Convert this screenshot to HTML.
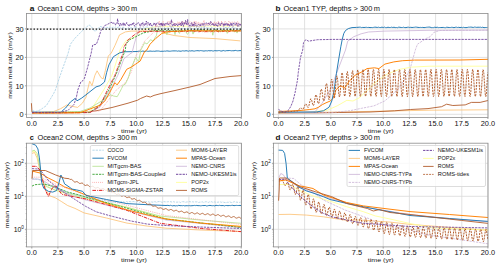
<!DOCTYPE html><html><head><meta charset="utf-8"><style>html,body{margin:0;padding:0;background:#fff;width:500px;height:269px;overflow:hidden}svg{display:block}text{font-family:"Liberation Sans", sans-serif;fill:#111111;stroke:none}</style></head><body>
<svg width="500" height="269" viewBox="0 0 500 269">
<defs>
<clipPath id="clipa"><rect x="26.5" y="13.5" width="214.9" height="103.9"/></clipPath>
<clipPath id="clipb"><rect x="273.5" y="13.5" width="214.5" height="103.9"/></clipPath>
<clipPath id="clipc"><rect x="26.5" y="143.2" width="214.9" height="103.7"/></clipPath>
<clipPath id="clipd"><rect x="273.5" y="143.2" width="214.5" height="103.7"/></clipPath>
</defs>
<line x1="31.8" y1="13.5" x2="31.8" y2="117.4" stroke="#d9d9d9" stroke-width="0.8"/>
<line x1="57.9" y1="13.5" x2="57.9" y2="117.4" stroke="#d9d9d9" stroke-width="0.8"/>
<line x1="84.1" y1="13.5" x2="84.1" y2="117.4" stroke="#d9d9d9" stroke-width="0.8"/>
<line x1="110.3" y1="13.5" x2="110.3" y2="117.4" stroke="#d9d9d9" stroke-width="0.8"/>
<line x1="136.5" y1="13.5" x2="136.5" y2="117.4" stroke="#d9d9d9" stroke-width="0.8"/>
<line x1="162.7" y1="13.5" x2="162.7" y2="117.4" stroke="#d9d9d9" stroke-width="0.8"/>
<line x1="188.9" y1="13.5" x2="188.9" y2="117.4" stroke="#d9d9d9" stroke-width="0.8"/>
<line x1="215.1" y1="13.5" x2="215.1" y2="117.4" stroke="#d9d9d9" stroke-width="0.8"/>
<line x1="241.2" y1="13.5" x2="241.2" y2="117.4" stroke="#d9d9d9" stroke-width="0.8"/>
<line x1="26.5" y1="114.3" x2="241.4" y2="114.3" stroke="#d9d9d9" stroke-width="0.8"/>
<line x1="26.5" y1="85.8" x2="241.4" y2="85.8" stroke="#d9d9d9" stroke-width="0.8"/>
<line x1="26.5" y1="57.4" x2="241.4" y2="57.4" stroke="#d9d9d9" stroke-width="0.8"/>
<line x1="26.5" y1="28.9" x2="241.4" y2="28.9" stroke="#d9d9d9" stroke-width="0.8"/>
<path d="M31.4,103.2 L32.0,112.2 L40.0,112.8 L60.0,112.8 L80.0,112.5 L96.0,110.8 L112.0,107.5 L128.0,103.2 L137.6,100.2 L140.5,98.5 L146.6,96.0 L150.3,97.0 L154.0,95.4 L160.0,93.8 L175.0,90.5 L190.0,87.0 L200.0,84.5 L215.0,78.5 L230.0,76.5 L241.3,75.6" fill="none" stroke="#b15928" stroke-width="0.88" clip-path="url(#clipa)" stroke-linejoin="round"/>
<path d="M32.0,112.6 L60.0,112.5 L90.0,111.5 L103.7,90.0 L111.9,75.3 L116.3,61.9 L120.0,50.0 L126.0,40.5 L132.7,38.3 L138.6,33.0 L144.6,29.3 L153.5,27.1 L155.0,26.7 L156.2,26.8 L157.4,26.8 L158.6,26.9 L159.8,26.7 L161.0,26.9 L162.2,26.2 L163.4,26.5 L164.6,26.8 L165.8,26.6 L167.0,26.8 L168.2,26.2 L169.4,26.5 L170.6,26.3 L171.8,26.5 L173.0,26.5 L174.2,26.1 L175.4,26.3 L176.6,26.3 L177.8,26.7 L179.0,26.6 L180.2,26.2 L181.4,26.6 L182.6,26.2 L183.8,26.5 L185.0,26.1 L186.2,26.0 L187.4,26.6 L188.6,26.2 L189.8,26.2 L191.0,26.7 L192.2,26.6 L193.4,26.2 L194.6,26.6 L195.8,26.3 L197.0,26.4 L198.2,26.1 L199.4,26.6 L200.6,26.4 L201.8,26.6 L203.0,26.5 L204.2,26.1 L205.4,26.2 L206.6,26.0 L207.8,26.0 L209.0,25.9 L210.2,26.1 L211.4,26.3 L212.6,25.9 L213.8,26.3 L215.0,26.1 L216.2,26.0 L217.4,26.4 L218.6,26.1 L219.8,26.0 L221.0,26.1 L222.2,26.3 L223.4,25.8 L224.6,26.4 L225.8,25.8 L227.0,26.3 L228.2,26.3 L229.4,25.7 L230.6,26.3 L231.8,26.0 L233.0,26.1 L234.2,25.7 L235.4,25.7 L236.6,25.8 L237.8,26.3 L239.0,25.8 L240.2,26.2" fill="none" stroke="#ffff99" stroke-width="0.88" clip-path="url(#clipa)" stroke-linejoin="round"/>
<path d="M32.0,112.6 L53.6,111.6 L60.8,108.6 L66.8,105.0 L71.6,106.2 L77.6,107.4 L82.4,103.2 L86.0,97.2 L87.5,90.0 L89.7,81.2 L92.0,85.7 L94.9,75.3 L97.1,70.8 L100.9,77.5 L103.1,79.0 L105.3,70.8 L108.3,56.0 L111.3,53.0 L114.9,45.7 L119.5,34.9 L125.4,31.9 L131.3,31.1 L144.7,31.1 L159.6,30.8 L163.5,33.1 L174.2,35.5 L190.0,37.5 L215.0,38.6 L240.3,40.9" fill="none" stroke="#fdbf6f" stroke-width="0.80" clip-path="url(#clipa)" stroke-linejoin="round"/>
<path d="M32.2,110.6 L35.6,111.6 L40.4,109.8 L46.4,105.6 L53.6,93.6 L55.4,90.0 L60.0,76.0 L68.2,53.0 L70.4,44.2 L74.9,38.3 L82.3,30.8 L89.0,24.9 L91.2,26.4 L95.0,31.6 L100.1,26.4 L104.6,27.9 L106.0,27.6 L107.2,27.2 L108.4,28.3 L109.6,27.1 L110.8,28.1 L112.0,27.7 L113.2,27.0 L114.4,28.0 L115.6,27.0 L116.8,27.9 L118.0,27.1 L119.2,27.1 L120.4,27.9 L121.6,28.8 L122.8,27.2 L124.0,27.4 L125.2,28.3 L126.4,29.0 L127.6,28.2 L128.8,27.8 L130.0,29.1 L131.2,27.1 L132.4,28.8 L133.6,27.6 L134.8,27.3 L136.0,27.2 L137.2,27.6 L138.4,28.8 L139.6,27.4 L140.8,28.3 L142.0,28.4 L143.2,27.8 L144.4,28.2 L145.6,27.1 L146.8,27.1 L148.0,27.4 L149.2,28.5 L150.4,27.9 L151.6,27.7 L152.8,28.3 L154.0,28.0 L155.2,27.7 L156.4,28.8 L157.6,28.6 L158.8,27.6 L160.0,28.3 L161.2,28.2 L162.4,29.0 L163.6,28.6 L164.8,27.7 L166.0,29.2 L167.2,27.3 L168.4,28.0 L169.6,28.7 L170.8,27.4 L172.0,28.1 L173.2,27.1 L174.4,28.5 L175.6,28.7 L176.8,28.3 L178.0,29.0 L179.2,27.8 L180.4,28.6 L181.6,28.4 L182.8,28.3 L184.0,28.1 L185.2,28.9 L186.4,29.2 L187.6,28.1 L188.8,28.5 L190.0,27.2 L191.2,28.6 L192.4,28.5 L193.6,29.3 L194.8,28.9 L196.0,27.7 L197.2,28.0 L198.4,28.6 L199.6,27.2 L200.8,28.1 L202.0,27.5 L203.2,27.4 L204.4,27.2 L205.6,28.8 L206.8,27.4 L208.0,27.7 L209.2,28.0 L210.4,29.0 L211.6,27.3 L212.8,28.1 L214.0,28.3 L215.2,29.1 L216.4,28.9 L217.6,29.0 L218.8,27.8 L220.0,28.1 L221.2,27.9 L222.4,29.1 L223.6,29.3 L224.8,27.5 L226.0,27.6 L227.2,27.7 L228.4,27.7 L229.6,28.2 L230.8,28.5 L232.0,27.8 L233.2,27.2 L234.4,28.1 L235.6,28.0 L236.8,28.4 L238.0,29.3 L239.2,28.7 L240.4,28.3" fill="none" stroke="#a6cee3" stroke-width="0.80" stroke-dasharray="2.3,1.0" clip-path="url(#clipa)" stroke-linejoin="round"/>
<path d="M32.2,112.2 L60.8,112.2 L65.6,108.0 L70.4,102.0 L75.2,98.4 L77.0,100.8 L81.2,98.4 L86.0,94.8 L96.0,86.9 L100.0,85.7 L104.5,82.0 L106.7,72.3 L108.9,64.9 L113.4,56.7 L119.3,53.0 L123.8,51.8 L137.1,51.5 L138.0,51.3 L139.2,51.2 L140.4,51.1 L141.6,51.5 L142.8,51.0 L144.0,51.3 L145.2,51.5 L146.4,51.0 L147.6,51.3 L148.8,51.3 L150.0,51.0 L151.2,51.2 L152.4,51.3 L153.6,51.2 L154.8,51.3 L156.0,51.0 L157.2,51.0 L158.4,51.0 L159.6,51.2 L160.8,51.4 L162.0,51.2 L163.2,51.3 L164.4,51.1 L165.6,51.2 L166.8,50.9 L168.0,51.0 L169.2,51.2 L170.4,51.2 L171.6,51.0 L172.8,50.9 L174.0,50.9 L175.2,50.9 L176.4,50.9 L177.6,51.2 L178.8,50.9 L180.0,51.2 L181.2,51.2 L182.4,50.8 L183.6,50.9 L184.8,51.0 L186.0,50.7 L187.2,50.9 L188.4,51.2 L189.6,50.8 L190.8,51.0 L192.0,50.7 L193.2,51.0 L194.4,51.1 L195.6,50.8 L196.8,50.7 L198.0,50.7 L199.2,50.9 L200.4,50.6 L201.6,50.7 L202.8,50.9 L204.0,51.1 L205.2,50.8 L206.4,50.8 L207.6,50.9 L208.8,50.6 L210.0,50.9 L211.2,50.6 L212.4,50.9 L213.6,51.0 L214.8,50.6 L216.0,50.8 L217.2,50.8 L218.4,50.6 L219.6,50.6 L220.8,51.0 L222.0,51.0 L223.2,50.5 L224.4,50.8 L225.6,50.9 L226.8,50.6 L228.0,50.7 L229.2,50.5 L230.4,50.6 L231.6,50.8 L232.8,50.7 L234.0,50.8 L235.2,50.4 L236.4,50.6 L237.6,50.8 L238.8,50.7 L240.0,50.6 L241.2,50.6" fill="none" stroke="#1f78b4" stroke-width="0.96" clip-path="url(#clipa)" stroke-linejoin="round"/>
<path d="M32.0,112.8 L90.0,112.4 L100.0,107.0 L110.4,90.0 L117.8,75.3 L123.8,58.9 L131.2,53.0 L132.0,53.0 L134.2,44.2 L136.4,36.8 L140.0,28.0 L141.0,23.9 L141.8,25.9 L142.6,25.8 L143.4,26.6 L144.2,23.6 L145.0,23.8 L145.8,23.4 L146.6,23.7 L147.4,26.1 L148.2,23.3 L149.0,25.1 L149.8,23.7 L150.6,24.1 L151.4,24.7 L152.2,26.6 L153.0,25.5 L153.8,22.8 L154.6,24.0 L155.4,23.4 L156.2,26.7 L157.0,26.4 L157.8,26.4 L158.6,26.5 L159.4,26.1 L160.2,27.1 L161.0,26.4 L161.8,23.9 L162.6,26.6 L163.4,24.9 L164.2,26.2 L165.0,25.3 L165.8,24.7 L166.6,24.4 L167.4,24.7 L168.2,24.1 L169.0,23.2 L169.8,26.5 L170.6,26.4 L171.4,27.2 L172.2,25.9 L173.0,25.2 L173.8,26.1 L174.6,23.3 L175.4,25.8 L176.2,24.7 L177.0,23.5 L177.8,23.6 L178.6,25.1 L179.4,23.9 L180.2,24.8 L181.0,25.5 L181.8,24.5 L182.6,23.3 L183.4,25.0 L184.2,23.8 L185.0,23.8 L185.8,23.6 L186.6,24.4 L187.4,23.0 L188.2,25.7 L189.0,27.1 L189.8,24.5 L190.6,26.0 L191.4,27.0 L192.2,22.9 L193.0,23.4 L193.8,26.4 L194.6,26.6 L195.4,25.6 L196.2,23.4 L197.0,24.6 L197.8,26.7 L198.6,26.8 L199.4,26.4 L200.2,23.6 L201.0,26.6 L201.8,24.4 L202.6,26.0 L203.4,23.3 L204.2,27.2 L205.0,25.5 L205.8,26.0 L206.6,23.7 L207.4,25.5 L208.2,25.4 L209.0,25.4 L209.8,24.4 L210.6,26.0 L211.4,24.3 L212.2,24.1 L213.0,23.5 L213.8,25.8 L214.6,23.2 L215.4,23.7 L216.2,23.0 L217.0,25.7 L217.8,25.3 L218.6,25.2 L219.4,22.9 L220.2,24.7 L221.0,24.3 L221.8,23.1 L222.6,22.7 L223.4,27.3 L224.2,23.3 L225.0,24.1 L225.8,23.9 L226.6,25.4 L227.4,23.1 L228.2,24.9 L229.0,24.4 L229.8,26.5 L230.6,22.7 L231.4,24.2 L232.2,25.0 L233.0,27.2 L233.8,25.1 L234.6,24.9 L235.4,25.8 L236.2,24.1 L237.0,22.8 L237.8,25.0 L238.6,26.9 L239.4,26.1 L240.2,23.9 L241.0,25.8" fill="none" stroke="#cab2d6" stroke-width="0.80" clip-path="url(#clipa)" stroke-linejoin="round"/>
<path d="M32.0,112.8 L100.0,111.0 L116.3,90.0 L125.3,82.7 L131.2,72.3 L135.7,56.0 L140.1,50.0 L144.6,41.2 L150.5,35.3 L155.0,31.0 L156.0,23.7 L156.8,26.0 L157.6,25.0 L158.4,24.4 L159.2,21.1 L160.0,24.9 L160.8,23.6 L161.6,25.4 L162.4,23.1 L163.2,21.3 L164.0,25.5 L164.8,24.6 L165.6,25.9 L166.4,23.8 L167.2,24.3 L168.0,21.4 L168.8,23.4 L169.6,21.7 L170.4,25.2 L171.2,21.1 L172.0,21.2 L172.8,22.8 L173.6,22.9 L174.4,25.5 L175.2,23.9 L176.0,23.7 L176.8,22.3 L177.6,22.0 L178.4,23.8 L179.2,21.6 L180.0,25.7 L180.8,22.7 L181.6,23.9 L182.4,21.0 L183.2,22.7 L184.0,22.4 L184.8,24.7 L185.6,21.3 L186.4,23.3 L187.2,24.5 L188.0,24.7 L188.8,24.0 L189.6,21.9 L190.4,21.7 L191.2,22.0 L192.0,23.7 L192.8,25.7 L193.6,21.2 L194.4,21.4 L195.2,25.3 L196.0,21.4 L196.8,24.2 L197.6,23.7 L198.4,21.8 L199.2,24.7 L200.0,22.9 L200.8,23.8 L201.6,23.2 L202.4,24.8 L203.2,22.5 L204.0,20.2 L204.8,23.8 L205.6,25.5 L206.4,23.9 L207.2,23.8 L208.0,22.8 L208.8,24.8 L209.6,22.7 L210.4,23.6 L211.2,21.9 L212.0,24.5 L212.8,23.2 L213.6,23.5 L214.4,21.4 L215.2,26.0 L216.0,23.3 L216.8,22.0 L217.6,23.5 L218.4,21.0 L219.2,25.6 L220.0,26.0 L220.8,25.6 L221.6,21.0 L222.4,24.8 L223.2,24.2 L224.0,25.0 L224.8,21.1 L225.6,21.8 L226.4,22.2 L227.2,23.7 L228.0,25.9 L228.8,20.9 L229.6,22.6 L230.4,22.5 L231.2,22.3 L232.0,22.6 L232.8,22.1 L233.6,22.3 L234.4,22.1 L235.2,22.4 L236.0,22.7 L236.8,25.9 L237.6,21.6 L238.4,23.1 L239.2,22.8 L240.0,24.8 L240.8,23.7" fill="none" stroke="#fb9a99" stroke-width="0.88" stroke-dasharray="0.8,1.1" clip-path="url(#clipa)" stroke-linejoin="round"/>
<path d="M32.0,112.6 L80.0,111.5 L90.0,108.0 L100.0,102.0 L110.4,94.8 L113.5,96.0 L117.2,96.7 L119.6,92.4 L121.5,88.7 L123.3,85.0 L125.3,84.2 L128.2,78.2 L131.2,67.8 L135.7,57.4 L138.6,61.9 L140.9,50.0 L144.6,42.7 L147.0,44.0 L150.5,39.7 L153.0,41.0 L156.5,35.3 L157.0,31.9 L157.9,31.5 L158.8,31.2 L159.7,31.0 L160.6,30.9 L161.5,31.1 L162.4,30.6 L163.3,31.0 L164.2,33.2 L165.1,31.5 L166.0,31.9 L166.9,34.7 L167.8,31.9 L168.7,31.7 L169.6,32.3 L170.5,32.0 L171.4,30.7 L172.3,31.8 L173.2,31.1 L174.1,31.6 L175.0,34.6 L175.9,31.2 L176.8,31.2 L177.7,31.0 L178.6,32.0 L179.5,33.4 L180.4,30.4 L181.3,30.7 L182.2,30.7 L183.1,31.7 L184.0,30.7 L184.9,30.2 L185.8,31.6 L186.7,33.3 L187.6,34.4 L188.5,33.0 L189.4,30.6 L190.3,30.3 L191.2,31.9 L192.1,30.1 L193.0,34.1 L193.9,31.4 L194.8,32.0 L195.7,31.2 L196.6,30.4 L197.5,30.1 L198.4,31.3 L199.3,30.3 L200.2,31.5 L201.1,30.6 L202.0,30.4 L202.9,31.5 L203.8,31.3 L204.7,30.5 L205.6,30.8 L206.5,30.0 L207.4,30.1 L208.3,31.8 L209.2,31.7 L210.1,30.8 L211.0,30.5 L211.9,30.7 L212.8,35.2 L213.7,30.9 L214.6,29.8 L215.5,30.4 L216.4,31.0 L217.3,30.3 L218.2,31.8 L219.1,31.8 L220.0,31.1 L220.9,31.2 L221.8,31.6 L222.7,29.7 L223.6,31.0 L224.5,31.2 L225.4,30.2 L226.3,30.2 L227.2,33.4 L228.1,30.8 L229.0,30.3 L229.9,31.0 L230.8,30.3 L231.7,30.0 L232.6,30.2 L233.5,31.2 L234.4,32.2 L235.3,30.6 L236.2,31.5 L237.1,33.1 L238.0,30.1 L238.9,31.2 L239.8,29.7 L240.7,29.8" fill="none" stroke="#b2df8a" stroke-width="0.80" clip-path="url(#clipa)" stroke-linejoin="round"/>
<path d="M32.0,112.8 L90.0,112.3 L100.0,105.0 L108.9,90.0 L116.3,73.8 L120.8,61.9 L125.3,50.0 L126.0,44.2 L129.7,39.7 L135.7,36.8 L143.1,33.0 L149.0,31.6 L150.0,31.2 L151.2,31.2 L152.4,31.1 L153.6,30.0 L154.8,30.7 L156.0,30.5 L157.2,30.6 L158.4,30.0 L159.6,30.1 L160.8,30.5 L162.0,30.2 L163.2,30.5 L164.4,29.9 L165.6,30.0 L166.8,30.8 L168.0,30.4 L169.2,30.5 L170.4,30.8 L171.6,30.3 L172.8,29.9 L174.0,30.9 L175.2,30.6 L176.4,30.7 L177.6,30.6 L178.8,31.1 L180.0,30.3 L181.2,30.8 L182.4,30.3 L183.6,30.6 L184.8,30.7 L186.0,30.2 L187.2,29.9 L188.4,30.4 L189.6,30.7 L190.8,30.5 L192.0,30.3 L193.2,30.6 L194.4,30.0 L195.6,30.0 L196.8,30.1 L198.0,30.8 L199.2,30.0 L200.4,29.8 L201.6,29.8 L202.8,29.7 L204.0,30.0 L205.2,30.5 L206.4,30.8 L207.6,30.1 L208.8,30.2 L210.0,30.0 L211.2,30.1 L212.4,30.7 L213.6,30.4 L214.8,30.0 L216.0,29.8 L217.2,30.7 L218.4,30.6 L219.6,30.8 L220.8,29.9 L222.0,30.3 L223.2,30.9 L224.4,30.4 L225.6,30.9 L226.8,29.8 L228.0,30.9 L229.2,29.6 L230.4,30.1 L231.6,29.6 L232.8,30.7 L234.0,30.5 L235.2,30.9 L236.4,30.6 L237.6,30.8 L238.8,30.3 L240.0,30.9 L241.2,30.5" fill="none" stroke="#33a02c" stroke-width="0.88" stroke-dasharray="2.3,1.0" clip-path="url(#clipa)" stroke-linejoin="round"/>
<path d="M32.0,112.9 L90.0,112.6 L100.0,106.0 L107.4,90.0 L114.9,75.3 L119.3,63.4 L123.0,53.0 L123.8,47.2 L128.2,39.7 L135.7,33.8 L138.6,32.3 L140.0,31.5 L141.2,31.3 L142.4,31.8 L143.6,31.3 L144.8,31.5 L146.0,31.3 L147.2,31.4 L148.4,31.9 L149.6,31.1 L150.8,31.4 L152.0,31.2 L153.2,31.3 L154.4,32.0 L155.6,31.3 L156.8,31.6 L158.0,31.4 L159.2,31.7 L160.4,31.4 L161.6,31.1 L162.8,31.4 L164.0,31.3 L165.2,31.7 L166.4,31.5 L167.6,31.1 L168.8,31.6 L170.0,31.2 L171.2,31.4 L172.4,31.1 L173.6,31.3 L174.8,31.7 L176.0,31.4 L177.2,31.6 L178.4,31.6 L179.6,31.5 L180.8,31.5 L182.0,31.3 L183.2,31.5 L184.4,31.6 L185.6,31.0 L186.8,31.8 L188.0,31.2 L189.2,31.0 L190.4,31.0 L191.6,31.2 L192.8,30.9 L194.0,31.2 L195.2,31.3 L196.4,31.5 L197.6,31.3 L198.8,31.8 L200.0,31.5 L201.2,31.1 L202.4,31.7 L203.6,31.5 L204.8,31.8 L206.0,31.5 L207.2,31.8 L208.4,31.0 L209.6,31.1 L210.8,31.8 L212.0,30.8 L213.2,31.7 L214.4,31.7 L215.6,30.9 L216.8,30.9 L218.0,31.7 L219.2,31.7 L220.4,31.6 L221.6,31.5 L222.8,31.5 L224.0,31.1 L225.2,30.8 L226.4,31.4 L227.6,31.6 L228.8,31.7 L230.0,31.2 L231.2,30.7 L232.4,30.9 L233.6,31.2 L234.8,30.9 L236.0,30.7 L237.2,30.9 L238.4,31.2 L239.6,30.8 L240.8,30.8" fill="none" stroke="#e31a1c" stroke-width="0.88" stroke-dasharray="3.6,1,0.8,1" clip-path="url(#clipa)" stroke-linejoin="round"/>
<path d="M32.0,113.0 L80.0,112.8 L100.0,105.2 L104.9,101.0 L109.8,92.4 L111.7,88.7 L114.9,82.7 L117.1,84.9 L120.8,79.7 L126.7,69.3 L131.2,67.1 L135.7,64.1 L140.1,61.1 L144.6,51.5 L146.8,50.0 L150.0,44.2 L155.8,38.4 L161.6,33.6 L165.5,32.1 L175.1,31.2 L190.0,30.7 L215.0,30.9 L241.3,30.9" fill="none" stroke="#ff7f00" stroke-width="0.96" clip-path="url(#clipa)" stroke-linejoin="round"/>
<path d="M32.0,112.5 L60.0,112.4 L68.0,110.4 L74.0,104.4 L76.4,97.2 L77.8,90.0 L80.8,82.0 L83.0,80.5 L84.5,78.2 L87.5,67.8 L89.7,58.9 L91.2,53.0 L92.7,45.0 L96.4,44.2 L98.6,38.3 L100.9,30.8 L104.6,25.6 L107.0,24.6 L110.5,22.7 L112.0,22.3 L112.7,23.9 L113.4,22.9 L114.1,23.2 L114.8,22.9 L115.5,25.0 L116.2,24.5 L116.9,24.0 L117.6,18.8 L118.3,23.9 L119.0,23.6 L119.7,26.1 L120.4,23.2 L121.1,24.5 L121.8,25.7 L122.5,23.1 L123.2,22.8 L123.9,25.8 L124.6,23.2 L125.3,25.3 L126.0,24.9 L126.7,22.5 L127.4,23.7 L128.1,24.9 L128.8,26.2 L129.5,26.3 L130.2,23.6 L130.9,24.8 L131.6,25.0 L132.3,23.1 L133.0,24.8 L133.7,22.7 L134.4,26.0 L135.1,26.3 L135.8,24.2 L136.5,24.1 L137.2,24.6 L137.9,22.8 L138.6,22.8 L139.3,23.7 L140.0,25.8 L140.7,24.4 L141.4,23.5 L142.1,24.8 L142.8,22.5 L143.5,22.9 L144.2,25.1 L144.9,25.4 L145.6,25.4 L146.3,21.0 L147.0,23.5 L147.7,22.6 L148.4,22.6 L149.1,23.2 L149.8,25.7 L150.5,23.1 L151.2,25.2 L151.9,25.8 L152.6,24.5 L153.3,24.2 L154.0,24.3 L154.7,22.9 L155.4,25.4 L156.1,25.2 L156.8,23.1 L157.5,22.9 L158.2,23.0 L158.9,23.6 L159.6,25.3 L160.3,23.4 L161.0,25.4 L161.7,22.5 L162.4,26.0 L163.1,23.2 L163.8,23.9 L164.5,25.7 L165.2,23.2 L165.9,23.8 L166.6,23.9 L167.3,22.7 L168.0,24.9 L168.7,24.4 L169.4,23.5 L170.1,22.6 L170.8,23.6 L171.5,19.7 L172.2,25.5 L172.9,26.1 L173.6,24.1 L174.3,23.4 L175.0,25.8 L175.7,23.7 L176.4,24.7 L177.1,23.9 L177.8,26.2 L178.5,24.5 L179.2,23.7 L179.9,25.2 L180.6,23.3 L181.3,25.8 L182.0,21.4 L182.7,25.2 L183.4,26.4 L184.1,22.7 L184.8,24.4 L185.5,20.4 L186.2,22.7 L186.9,24.6 L187.6,19.4 L188.3,24.2 L189.0,24.4 L189.7,26.1 L190.4,25.4 L191.1,23.2 L191.8,22.8 L192.5,26.1 L193.2,24.0 L193.9,26.3 L194.6,22.4 L195.3,24.3 L196.0,25.8 L196.7,26.1 L197.4,26.1 L198.1,24.7 L198.8,24.3 L199.5,24.8 L200.2,26.0 L200.9,24.0 L201.6,23.9 L202.3,24.2 L203.0,23.6 L203.7,25.2 L204.4,23.3 L205.1,23.6 L205.8,23.2 L206.5,23.0 L207.2,23.6 L207.9,24.3 L208.6,22.9 L209.3,24.7 L210.0,23.9 L210.7,21.3 L211.4,23.8 L212.1,24.7 L212.8,23.0 L213.5,25.0 L214.2,26.1 L214.9,24.9 L215.6,23.6 L216.3,25.7 L217.0,24.7 L217.7,26.4 L218.4,22.8 L219.1,23.1 L219.8,24.4 L220.5,25.8 L221.2,23.1 L221.9,23.3 L222.6,23.1 L223.3,24.0 L224.0,26.1 L224.7,23.9 L225.4,25.2 L226.1,23.1 L226.8,23.2 L227.5,25.5 L228.2,24.0 L228.9,25.7 L229.6,26.2 L230.3,23.7 L231.0,23.0 L231.7,26.0 L232.4,23.3 L233.1,24.2 L233.8,22.8 L234.5,23.1 L235.2,24.6 L235.9,22.7 L236.6,23.2 L237.3,26.0 L238.0,26.2 L238.7,23.6 L239.4,25.0 L240.1,24.0 L240.8,25.5" fill="none" stroke="#6a3d9a" stroke-width="0.84" stroke-dasharray="2.3,1.0" clip-path="url(#clipa)" stroke-linejoin="round"/>
<line x1="27.0" y1="29.1" x2="241.4" y2="29.1" stroke="#111" stroke-width="1.45" stroke-dasharray="1.4,1.87"/>
<rect x="26.5" y="13.5" width="214.9" height="103.9" fill="none" stroke="#8c8c8c" stroke-width="0.8"/>
<line x1="31.8" y1="117.4" x2="31.8" y2="119.0" stroke="#8c8c8c" stroke-width="0.8"/>
<text x="31.75" y="125.70" font-size="6.84" text-anchor="middle" textLength="10.26" lengthAdjust="spacingAndGlyphs">0.0</text>
<line x1="57.9" y1="117.4" x2="57.9" y2="119.0" stroke="#8c8c8c" stroke-width="0.8"/>
<text x="57.94" y="125.70" font-size="6.84" text-anchor="middle" textLength="10.26" lengthAdjust="spacingAndGlyphs">2.5</text>
<line x1="84.1" y1="117.4" x2="84.1" y2="119.0" stroke="#8c8c8c" stroke-width="0.8"/>
<text x="84.12" y="125.70" font-size="6.84" text-anchor="middle" textLength="10.26" lengthAdjust="spacingAndGlyphs">5.0</text>
<line x1="110.3" y1="117.4" x2="110.3" y2="119.0" stroke="#8c8c8c" stroke-width="0.8"/>
<text x="110.31" y="125.70" font-size="6.84" text-anchor="middle" textLength="10.26" lengthAdjust="spacingAndGlyphs">7.5</text>
<line x1="136.5" y1="117.4" x2="136.5" y2="119.0" stroke="#8c8c8c" stroke-width="0.8"/>
<text x="136.50" y="125.70" font-size="6.84" text-anchor="middle" textLength="14.36" lengthAdjust="spacingAndGlyphs">10.0</text>
<line x1="162.7" y1="117.4" x2="162.7" y2="119.0" stroke="#8c8c8c" stroke-width="0.8"/>
<text x="162.69" y="125.70" font-size="6.84" text-anchor="middle" textLength="14.36" lengthAdjust="spacingAndGlyphs">12.5</text>
<line x1="188.9" y1="117.4" x2="188.9" y2="119.0" stroke="#8c8c8c" stroke-width="0.8"/>
<text x="188.88" y="125.70" font-size="6.84" text-anchor="middle" textLength="14.36" lengthAdjust="spacingAndGlyphs">15.0</text>
<line x1="215.1" y1="117.4" x2="215.1" y2="119.0" stroke="#8c8c8c" stroke-width="0.8"/>
<text x="215.06" y="125.70" font-size="6.84" text-anchor="middle" textLength="14.36" lengthAdjust="spacingAndGlyphs">17.5</text>
<line x1="241.2" y1="117.4" x2="241.2" y2="119.0" stroke="#8c8c8c" stroke-width="0.8"/>
<text x="241.25" y="125.70" font-size="6.84" text-anchor="middle" textLength="14.36" lengthAdjust="spacingAndGlyphs">20.0</text>
<text x="133.95" y="132.90" font-size="6.13" text-anchor="middle" textLength="25.94" lengthAdjust="spacingAndGlyphs">time (yr)</text>
<line x1="24.9" y1="114.3" x2="26.5" y2="114.3" stroke="#8c8c8c" stroke-width="0.8"/>
<text x="23.70" y="117.15" font-size="6.84" text-anchor="end" textLength="4.10" lengthAdjust="spacingAndGlyphs">0</text>
<line x1="24.9" y1="85.8" x2="26.5" y2="85.8" stroke="#8c8c8c" stroke-width="0.8"/>
<text x="23.70" y="88.70" font-size="6.84" text-anchor="end" textLength="8.21" lengthAdjust="spacingAndGlyphs">10</text>
<line x1="24.9" y1="57.4" x2="26.5" y2="57.4" stroke="#8c8c8c" stroke-width="0.8"/>
<text x="23.70" y="60.25" font-size="6.84" text-anchor="end" textLength="8.21" lengthAdjust="spacingAndGlyphs">20</text>
<line x1="24.9" y1="28.9" x2="26.5" y2="28.9" stroke="#8c8c8c" stroke-width="0.8"/>
<text x="23.70" y="31.80" font-size="6.84" text-anchor="end" textLength="8.21" lengthAdjust="spacingAndGlyphs">30</text>
<text x="0.00" y="0.00" font-size="5.95" text-anchor="middle" textLength="66.49" lengthAdjust="spacingAndGlyphs" transform="translate(12.2,65.5) rotate(-90)">mean melt rate (m/yr)</text>
<text x="29.70" y="10.65" font-size="7.35" font-weight="bold" textLength="4.68" lengthAdjust="spacingAndGlyphs">a</text>
<text x="37.40" y="10.65" font-size="7.39" textLength="99.82" lengthAdjust="spacingAndGlyphs">Ocean1 COM, depths &gt; 300 m</text>
<line x1="278.4" y1="13.5" x2="278.4" y2="117.4" stroke="#d9d9d9" stroke-width="0.8"/>
<line x1="304.6" y1="13.5" x2="304.6" y2="117.4" stroke="#d9d9d9" stroke-width="0.8"/>
<line x1="330.8" y1="13.5" x2="330.8" y2="117.4" stroke="#d9d9d9" stroke-width="0.8"/>
<line x1="357.0" y1="13.5" x2="357.0" y2="117.4" stroke="#d9d9d9" stroke-width="0.8"/>
<line x1="383.2" y1="13.5" x2="383.2" y2="117.4" stroke="#d9d9d9" stroke-width="0.8"/>
<line x1="409.4" y1="13.5" x2="409.4" y2="117.4" stroke="#d9d9d9" stroke-width="0.8"/>
<line x1="435.6" y1="13.5" x2="435.6" y2="117.4" stroke="#d9d9d9" stroke-width="0.8"/>
<line x1="461.8" y1="13.5" x2="461.8" y2="117.4" stroke="#d9d9d9" stroke-width="0.8"/>
<line x1="487.9" y1="13.5" x2="487.9" y2="117.4" stroke="#d9d9d9" stroke-width="0.8"/>
<line x1="273.5" y1="114.3" x2="488.0" y2="114.3" stroke="#d9d9d9" stroke-width="0.8"/>
<line x1="273.5" y1="85.8" x2="488.0" y2="85.8" stroke="#d9d9d9" stroke-width="0.8"/>
<line x1="273.5" y1="57.4" x2="488.0" y2="57.4" stroke="#d9d9d9" stroke-width="0.8"/>
<line x1="273.5" y1="28.9" x2="488.0" y2="28.9" stroke="#d9d9d9" stroke-width="0.8"/>
<path d="M278.5,112.6 L330.0,112.2 L380.0,111.2 L430.0,110.2 L488.0,109.8" fill="none" stroke="#fdbf6f" stroke-width="0.80" clip-path="url(#clipb)" stroke-linejoin="round"/>
<path d="M278.5,113.0 L320.0,112.8 L370.0,112.0 L394.5,110.8 L410.5,109.5 L428.0,108.6 L441.6,106.7 L446.6,104.2 L452.8,105.5 L465.2,104.9 L471.4,102.4 L480.1,102.4 L488.0,100.5" fill="none" stroke="#b15928" stroke-width="0.88" clip-path="url(#clipb)" stroke-linejoin="round"/>
<path d="M278.5,112.8 L310.0,112.0 L327.3,110.2 L337.1,105.9 L346.9,100.3 L353.0,101.0 L359.2,97.9 L366.5,91.1 L372.7,85.0 L378.9,79.7 L387.8,73.8 L399.7,69.3 L411.6,67.1 L430.0,66.2 L488.0,66.2" fill="none" stroke="#ffff99" stroke-width="0.88" clip-path="url(#clipb)" stroke-linejoin="round"/>
<path d="M278.5,112.8 L331.0,112.6 L349.4,110.8 L361.6,108.3 L373.9,105.9 L384.7,101.0 L392.0,94.8 L399.4,87.5 L404.2,80.0 L410.0,69.3 L415.3,50.0 L417.5,44.2 L422.0,41.2 L426.5,38.3 L430.0,36.8 L434.0,32.3 L440.0,30.5 L488.0,30.1" fill="none" stroke="#cab2d6" stroke-width="0.80" stroke-dasharray="2.3,1.0" clip-path="url(#clipb)" stroke-linejoin="round"/>
<path d="M278.5,112.5 L315.0,111.8 L322.0,103.4 L329.4,91.0 L331.3,88.0 L335.8,75.3 L345.5,50.0 L347.7,41.2 L353.6,36.8 L361.1,33.8 L368.5,32.0 L375.9,31.6 L384.9,31.1 L430.0,30.3 L488.0,30.1" fill="none" stroke="#cab2d6" stroke-width="0.80" clip-path="url(#clipb)" stroke-linejoin="round"/>
<path d="M278.5,111.5 L300.0,110.5 L309.8,109.5 L315.0,108.8 L318.7,107.1 L322.4,104.6 L326.0,102.8 L330.3,101.0 L334.0,97.3 L335.2,92.4 L335.8,90.0 L340.3,85.7 L344.7,87.9 L349.2,81.2 L355.1,75.3 L361.1,72.3 L367.0,68.6 L374.5,67.8 L378.9,68.6 L384.9,64.1 L393.8,61.9 L402.7,60.7 L414.6,60.1 L460.0,60.0 L488.0,59.3" fill="none" stroke="#ff7f00" stroke-width="0.96" clip-path="url(#clipb)" stroke-linejoin="round"/>
<path d="M278.5,112.2 L316.0,112.0 L323.4,110.8 L329.0,107.3 L331.8,101.0 L334.0,91.0 L336.4,73.6 L338.6,60.0 L340.8,46.8 L342.3,39.0 L343.8,33.4 L345.5,30.5 L348.3,28.6 L352.0,27.6 L356.6,27.4 L358.0,27.3 L359.2,27.2 L360.4,27.2 L361.6,27.6 L362.8,27.4 L364.0,27.5 L365.2,27.4 L366.4,27.3 L367.6,27.5 L368.8,27.4 L370.0,27.6 L371.2,27.5 L372.4,27.6 L373.6,27.4 L374.8,27.2 L376.0,27.2 L377.2,27.5 L378.4,27.2 L379.6,27.5 L380.8,27.5 L382.0,27.1 L383.2,27.6 L384.4,27.1 L385.6,27.6 L386.8,27.6 L388.0,27.2 L389.2,27.5 L390.4,27.5 L391.6,27.2 L392.8,27.5 L394.0,27.2 L395.2,27.6 L396.4,27.5 L397.6,27.7 L398.8,27.1 L400.0,27.3 L401.2,27.5 L402.4,27.5 L403.6,27.2 L404.8,27.6 L406.0,27.6 L407.2,27.3 L408.4,27.2 L409.6,27.5 L410.8,27.3 L412.0,27.5 L413.2,27.4 L414.4,27.3 L415.6,27.1 L416.8,27.2 L418.0,27.4 L419.2,27.5 L420.4,27.4 L421.6,27.5 L422.8,27.4 L424.0,27.6 L425.2,27.5 L426.4,27.3 L427.6,27.2 L428.8,27.1 L430.0,27.1 L431.2,27.6 L432.4,27.6 L433.6,27.6 L434.8,27.2 L436.0,27.5 L437.2,27.2 L438.4,27.6 L439.6,27.5 L440.8,27.5 L442.0,27.5 L443.2,27.4 L444.4,27.6 L445.6,27.7 L446.8,27.2 L448.0,27.4 L449.2,27.5 L450.4,27.5 L451.6,27.3 L452.8,27.4 L454.0,27.7 L455.2,27.3 L456.4,27.2 L457.6,27.5 L458.8,27.3 L460.0,27.6 L461.2,27.3 L462.4,27.7 L463.6,27.3 L464.8,27.6 L466.0,27.6 L467.2,27.5 L468.4,27.2 L469.6,27.2 L470.8,27.1 L472.0,27.2 L473.2,27.5 L474.4,27.1 L475.6,27.2 L476.8,27.4 L478.0,27.2 L479.2,27.3 L480.4,27.2 L481.6,27.5 L482.8,27.2 L484.0,27.7 L485.2,27.5 L486.4,27.5 L487.6,27.4" fill="none" stroke="#1f78b4" stroke-width="0.96" clip-path="url(#clipb)" stroke-linejoin="round"/>
<path d="M278.5,109.4 L281.0,111.0 L284.2,112.2 L287.0,111.5 L289.0,109.5 L291.0,106.0 L293.0,101.0 L295.0,93.0 L297.5,80.0 L298.3,72.3 L300.5,57.4 L302.7,50.0 L303.5,42.7 L305.7,39.7 L308.7,41.2 L312.4,40.5 L317.6,39.7 L333.0,39.4 L488.0,39.4" fill="none" stroke="#6a3d9a" stroke-width="0.84" stroke-dasharray="2.3,1.0" clip-path="url(#clipb)" stroke-linejoin="round"/>
<path d="M278.5,112.8 L297.0,110.9 L297.0,111.0 L297.4,111.0 L297.8,110.9 L298.2,110.6 L298.6,110.2 L299.0,109.6 L299.4,109.0 L299.8,108.4 L300.2,108.0 L300.6,107.8 L301.0,107.9 L301.4,108.2 L301.8,108.6 L302.2,109.0 L302.6,109.3 L303.0,109.2 L303.4,108.8 L303.8,108.0 L304.2,107.0 L304.6,105.9 L305.0,104.8 L305.4,104.1 L305.8,103.8 L306.2,104.1 L306.6,104.8 L307.0,105.8 L307.4,106.7 L307.8,107.3 L308.2,107.4 L308.6,106.7 L309.0,105.4 L309.4,103.6 L309.8,101.7 L310.2,100.0 L310.6,99.0 L311.0,98.7 L311.4,99.4 L311.8,100.8 L312.2,102.5 L312.6,104.2 L313.0,105.4 L313.4,105.6 L313.8,104.8 L314.2,103.0 L314.6,100.7 L315.0,98.2 L315.4,96.1 L315.8,94.9 L316.2,94.8 L316.6,95.7 L317.0,97.6 L317.4,99.9 L317.8,102.0 L318.2,103.4 L318.6,103.7 L319.0,102.8 L319.4,100.6 L319.8,97.5 L320.2,94.3 L320.6,91.4 L321.0,89.6 L321.4,89.1 L321.8,90.2 L322.2,92.5 L322.6,95.5 L323.0,98.4 L323.4,100.4 L323.8,101.0 L324.2,99.9 L324.6,97.3 L325.0,93.6 L325.4,89.5 L325.8,86.0 L326.2,83.8 L326.6,83.5 L327.0,85.0 L327.4,88.1 L327.8,92.1 L328.2,95.9 L328.6,98.7 L329.0,99.7 L329.4,98.6 L329.8,95.6 L330.2,91.1 L330.6,86.3 L331.0,82.2 L331.4,79.6 L331.8,79.2 L332.2,81.1 L332.6,84.7 L333.0,89.3 L333.4,93.8 L333.8,97.1 L334.2,98.4 L334.6,97.3 L335.0,94.0 L335.4,89.2 L335.8,84.0 L336.2,79.3 L336.6,76.4 L337.0,75.9 L337.4,77.8 L337.8,81.7 L338.2,86.7 L338.6,91.7 L339.0,95.4 L339.4,97.0 L339.8,96.0 L340.2,92.6 L340.6,87.4 L341.0,81.6 L341.4,76.6 L341.8,73.3 L342.2,72.6 L342.6,74.7 L343.0,79.0 L343.4,84.6 L343.8,90.1 L344.2,94.4 L344.6,96.4 L345.0,95.6 L345.4,92.2 L345.8,87.0 L346.2,81.1 L346.6,75.8 L347.0,72.4 L347.4,71.6 L347.8,73.7 L348.2,78.1 L348.6,83.8 L349.0,89.6 L349.4,94.2 L349.8,96.4 L350.2,95.8 L350.6,92.4 L351.0,87.0 L351.4,80.9 L351.8,75.4 L352.2,71.7 L352.6,70.7 L353.0,72.6 L353.4,77.1 L353.8,83.0 L354.2,89.1 L354.6,93.9 L355.0,96.4 L355.4,95.9 L355.8,92.6 L356.2,87.1 L356.6,80.8 L357.0,75.0 L357.4,71.0 L357.8,69.8 L358.2,71.6 L358.6,76.1 L359.0,82.2 L359.4,88.5 L359.8,93.7 L360.2,96.4 L360.6,96.1 L361.0,92.8 L361.4,87.3 L361.8,80.9 L362.2,74.9 L362.6,70.7 L363.0,69.4 L363.4,71.1 L363.8,75.5 L364.2,81.7 L364.6,88.1 L365.0,93.4 L365.4,96.3 L365.8,96.2 L366.2,93.1 L366.6,87.7 L367.0,81.3 L367.4,75.2 L367.8,70.9 L368.2,69.3 L368.6,70.9 L369.0,75.2 L369.4,81.3 L369.8,87.7 L370.2,93.1 L370.6,96.2 L371.0,96.3 L371.4,93.4 L371.8,88.1 L372.2,81.7 L372.6,75.5 L373.0,71.1 L373.4,69.4 L373.8,70.7 L374.2,74.9 L374.6,80.9 L375.0,87.3 L375.4,92.8 L375.8,96.1 L376.2,96.4 L376.6,93.7 L377.0,88.5 L377.4,82.1 L377.8,75.9 L378.2,71.3 L378.6,69.4 L379.0,70.5 L379.4,74.5 L379.8,80.5 L380.2,87.0 L380.6,92.6 L381.0,96.0 L381.4,96.5 L381.8,93.9 L382.2,88.9 L382.6,82.5 L383.0,76.2 L383.4,71.5 L383.8,69.4 L384.2,70.4 L384.6,74.2 L385.0,80.1 L385.4,86.6 L385.8,92.3 L386.2,95.9 L386.6,96.5 L387.0,94.1 L387.4,89.2 L387.8,82.9 L388.2,76.6 L388.6,71.7 L389.0,69.4 L389.4,70.2 L389.8,73.9 L390.2,79.7 L390.6,86.2 L391.0,91.9 L391.4,95.7 L391.8,96.6 L392.2,94.4 L392.6,89.6 L393.0,83.3 L393.4,77.0 L393.8,72.0 L394.2,69.5 L394.6,70.1 L395.0,73.6 L395.4,79.3 L395.8,85.8 L396.2,91.6 L396.6,95.6 L397.0,96.6 L397.4,94.6 L397.8,90.0 L398.2,83.7 L398.6,77.3 L399.0,72.2 L399.4,69.6 L399.8,70.0 L400.2,73.3 L400.6,78.9 L401.0,85.4 L401.4,91.3 L401.8,95.4 L402.2,96.6 L402.6,94.8 L403.0,90.3 L403.4,84.1 L403.8,77.7 L404.2,72.5 L404.6,69.7 L405.0,69.8 L405.4,73.0 L405.8,78.5 L406.2,84.9 L406.6,91.0 L407.0,95.2 L407.4,96.7 L407.8,95.0 L408.2,90.6 L408.6,84.5 L409.0,78.1 L409.4,72.8 L409.8,69.7 L410.2,69.7 L410.6,72.8 L411.0,78.1 L411.4,84.5 L411.8,90.6 L412.2,95.0 L412.6,96.7 L413.0,95.2 L413.4,91.0 L413.8,84.9 L414.2,78.5 L414.6,73.0 L415.0,69.8 L415.4,69.7 L415.8,72.5 L416.2,77.7 L416.6,84.1 L417.0,90.3 L417.4,94.8 L417.8,96.6 L418.2,95.4 L418.6,91.3 L419.0,85.4 L419.4,78.9 L419.8,73.3 L420.2,70.0 L420.6,69.6 L421.0,72.2 L421.4,77.3 L421.8,83.7 L422.2,90.0 L422.6,94.6 L423.0,96.6 L423.4,95.6 L423.8,91.6 L424.2,85.8 L424.6,79.3 L425.0,73.6 L425.4,70.1 L425.8,69.5 L426.2,72.0 L426.6,77.0 L427.0,83.3 L427.4,89.6 L427.8,94.4 L428.2,96.6 L428.6,95.7 L429.0,91.9 L429.4,86.2 L429.8,79.7 L430.2,73.9 L430.6,70.2 L431.0,69.4 L431.4,71.7 L431.8,76.6 L432.2,82.9 L432.6,89.2 L433.0,94.1 L433.4,96.5 L433.8,95.9 L434.2,92.3 L434.6,86.6 L435.0,80.1 L435.4,74.2 L435.8,70.4 L436.2,69.4 L436.6,71.5 L437.0,76.2 L437.4,82.5 L437.8,88.9 L438.2,93.9 L438.6,96.5 L439.0,96.0 L439.4,92.6 L439.8,87.0 L440.2,80.5 L440.6,74.5 L441.0,70.5 L441.4,69.4 L441.8,71.3 L442.2,75.9 L442.6,82.1 L443.0,88.5 L443.4,93.7 L443.8,96.4 L444.2,96.1 L444.6,92.8 L445.0,87.3 L445.4,80.9 L445.8,74.9 L446.2,70.7 L446.6,69.4 L447.0,71.1 L447.4,75.5 L447.8,81.7 L448.2,88.1 L448.6,93.4 L449.0,96.3 L449.4,96.2 L449.8,93.1 L450.2,87.7 L450.6,81.3 L451.0,75.2 L451.4,70.9 L451.8,69.3 L452.2,70.9 L452.6,75.2 L453.0,81.3 L453.4,87.7 L453.8,93.1 L454.2,96.2 L454.6,96.3 L455.0,93.4 L455.4,88.1 L455.8,81.7 L456.2,75.5 L456.6,71.1 L457.0,69.4 L457.4,70.7 L457.8,74.9 L458.2,80.9 L458.6,87.3 L459.0,92.8 L459.4,96.1 L459.8,96.4 L460.2,93.7 L460.6,88.5 L461.0,82.1 L461.4,75.9 L461.8,71.3 L462.2,69.4 L462.6,70.5 L463.0,74.5 L463.4,80.5 L463.8,87.0 L464.2,92.6 L464.6,96.0 L465.0,96.5 L465.4,93.9 L465.8,88.9 L466.2,82.5 L466.6,76.2 L467.0,71.5 L467.4,69.4 L467.8,70.4 L468.2,74.2 L468.6,80.1 L469.0,86.6 L469.4,92.3 L469.8,95.9 L470.2,96.5 L470.6,94.1 L471.0,89.2 L471.4,82.9 L471.8,76.6 L472.2,71.7 L472.6,69.4 L473.0,70.2 L473.4,73.9 L473.8,79.7 L474.2,86.2 L474.6,91.9 L475.0,95.7 L475.4,96.6 L475.8,94.4 L476.2,89.6 L476.6,83.3 L477.0,77.0 L477.4,72.0 L477.8,69.5 L478.2,70.1 L478.6,73.6 L479.0,79.3 L479.4,85.8 L479.8,91.6 L480.2,95.6 L480.6,96.6 L481.0,94.6 L481.4,90.0 L481.8,83.7 L482.2,77.3 L482.6,72.2 L483.0,69.6 L483.4,70.0 L483.8,73.3 L484.2,78.9 L484.6,85.4 L485.0,91.3 L485.4,95.4 L485.8,96.6 L486.2,94.8 L486.6,90.3 L487.0,84.1 L487.4,77.7 L487.8,72.5" fill="none" stroke="#b15928" stroke-width="0.96" stroke-dasharray="2.0,1.0" clip-path="url(#clipb)" stroke-linejoin="round"/>
<rect x="273.5" y="13.5" width="214.5" height="103.9" fill="none" stroke="#8c8c8c" stroke-width="0.8"/>
<line x1="278.4" y1="117.4" x2="278.4" y2="119.0" stroke="#8c8c8c" stroke-width="0.8"/>
<text x="278.45" y="125.70" font-size="6.84" text-anchor="middle" textLength="10.26" lengthAdjust="spacingAndGlyphs">0.0</text>
<line x1="304.6" y1="117.4" x2="304.6" y2="119.0" stroke="#8c8c8c" stroke-width="0.8"/>
<text x="304.64" y="125.70" font-size="6.84" text-anchor="middle" textLength="10.26" lengthAdjust="spacingAndGlyphs">2.5</text>
<line x1="330.8" y1="117.4" x2="330.8" y2="119.0" stroke="#8c8c8c" stroke-width="0.8"/>
<text x="330.82" y="125.70" font-size="6.84" text-anchor="middle" textLength="10.26" lengthAdjust="spacingAndGlyphs">5.0</text>
<line x1="357.0" y1="117.4" x2="357.0" y2="119.0" stroke="#8c8c8c" stroke-width="0.8"/>
<text x="357.01" y="125.70" font-size="6.84" text-anchor="middle" textLength="10.26" lengthAdjust="spacingAndGlyphs">7.5</text>
<line x1="383.2" y1="117.4" x2="383.2" y2="119.0" stroke="#8c8c8c" stroke-width="0.8"/>
<text x="383.20" y="125.70" font-size="6.84" text-anchor="middle" textLength="14.36" lengthAdjust="spacingAndGlyphs">10.0</text>
<line x1="409.4" y1="117.4" x2="409.4" y2="119.0" stroke="#8c8c8c" stroke-width="0.8"/>
<text x="409.39" y="125.70" font-size="6.84" text-anchor="middle" textLength="14.36" lengthAdjust="spacingAndGlyphs">12.5</text>
<line x1="435.6" y1="117.4" x2="435.6" y2="119.0" stroke="#8c8c8c" stroke-width="0.8"/>
<text x="435.57" y="125.70" font-size="6.84" text-anchor="middle" textLength="14.36" lengthAdjust="spacingAndGlyphs">15.0</text>
<line x1="461.8" y1="117.4" x2="461.8" y2="119.0" stroke="#8c8c8c" stroke-width="0.8"/>
<text x="461.76" y="125.70" font-size="6.84" text-anchor="middle" textLength="14.36" lengthAdjust="spacingAndGlyphs">17.5</text>
<line x1="487.9" y1="117.4" x2="487.9" y2="119.0" stroke="#8c8c8c" stroke-width="0.8"/>
<text x="487.95" y="125.70" font-size="6.84" text-anchor="middle" textLength="14.36" lengthAdjust="spacingAndGlyphs">20.0</text>
<text x="380.75" y="132.90" font-size="6.13" text-anchor="middle" textLength="25.94" lengthAdjust="spacingAndGlyphs">time (yr)</text>
<line x1="271.9" y1="114.3" x2="273.5" y2="114.3" stroke="#8c8c8c" stroke-width="0.8"/>
<text x="270.70" y="117.15" font-size="6.84" text-anchor="end" textLength="4.10" lengthAdjust="spacingAndGlyphs">0</text>
<line x1="271.9" y1="85.8" x2="273.5" y2="85.8" stroke="#8c8c8c" stroke-width="0.8"/>
<text x="270.70" y="88.70" font-size="6.84" text-anchor="end" textLength="8.21" lengthAdjust="spacingAndGlyphs">10</text>
<line x1="271.9" y1="57.4" x2="273.5" y2="57.4" stroke="#8c8c8c" stroke-width="0.8"/>
<text x="270.70" y="60.25" font-size="6.84" text-anchor="end" textLength="8.21" lengthAdjust="spacingAndGlyphs">20</text>
<line x1="271.9" y1="28.9" x2="273.5" y2="28.9" stroke="#8c8c8c" stroke-width="0.8"/>
<text x="270.70" y="31.80" font-size="6.84" text-anchor="end" textLength="8.21" lengthAdjust="spacingAndGlyphs">30</text>
<text x="0.00" y="0.00" font-size="5.95" text-anchor="middle" textLength="66.49" lengthAdjust="spacingAndGlyphs" transform="translate(259.2,65.5) rotate(-90)">mean melt rate (m/yr)</text>
<text x="275.50" y="10.65" font-size="7.35" font-weight="bold" textLength="4.96" lengthAdjust="spacingAndGlyphs">b</text>
<text x="283.60" y="10.65" font-size="7.39" textLength="96.37" lengthAdjust="spacingAndGlyphs">Ocean1 TYP, depths &gt; 300 m</text>
<line x1="31.8" y1="143.2" x2="31.8" y2="246.9" stroke="#d9d9d9" stroke-width="0.8"/>
<line x1="57.9" y1="143.2" x2="57.9" y2="246.9" stroke="#d9d9d9" stroke-width="0.8"/>
<line x1="84.1" y1="143.2" x2="84.1" y2="246.9" stroke="#d9d9d9" stroke-width="0.8"/>
<line x1="110.3" y1="143.2" x2="110.3" y2="246.9" stroke="#d9d9d9" stroke-width="0.8"/>
<line x1="136.5" y1="143.2" x2="136.5" y2="246.9" stroke="#d9d9d9" stroke-width="0.8"/>
<line x1="162.7" y1="143.2" x2="162.7" y2="246.9" stroke="#d9d9d9" stroke-width="0.8"/>
<line x1="188.9" y1="143.2" x2="188.9" y2="246.9" stroke="#d9d9d9" stroke-width="0.8"/>
<line x1="215.1" y1="143.2" x2="215.1" y2="246.9" stroke="#d9d9d9" stroke-width="0.8"/>
<line x1="241.2" y1="143.2" x2="241.2" y2="246.9" stroke="#d9d9d9" stroke-width="0.8"/>
<line x1="26.5" y1="229.3" x2="241.4" y2="229.3" stroke="#d9d9d9" stroke-width="0.8"/>
<line x1="26.5" y1="196.3" x2="241.4" y2="196.3" stroke="#d9d9d9" stroke-width="0.8"/>
<line x1="26.5" y1="163.3" x2="241.4" y2="163.3" stroke="#d9d9d9" stroke-width="0.8"/>
<path d="M32.0,153.4 L34.5,152.5 L37.1,157.9 L39.4,168.3 L42.0,180.0 L46.0,190.0 L49.8,195.8 L55.7,198.0 L61.7,201.7 L67.6,205.5 L75.0,208.4 L84.0,212.9 L106.5,218.0 L126.9,223.1 L147.3,226.1 L166.0,228.2 L200.0,230.0 L241.3,231.5" fill="none" stroke="#fdbf6f" stroke-width="0.80" clip-path="url(#clipc)" stroke-linejoin="round"/>
<path d="M32.0,152.0 L34.5,151.0 L37.5,156.0 L40.0,167.0 L43.0,182.0 L50.0,188.0 L60.0,192.0 L86.0,199.0 L126.0,207.0 L166.0,218.5 L200.0,223.0 L241.3,226.2" fill="none" stroke="#ffff99" stroke-width="0.88" clip-path="url(#clipc)" stroke-linejoin="round"/>
<path d="M32.0,151.2 L34.2,150.1 L37.1,153.4 L39.4,165.3 L40.9,177.2 L45.0,186.0 L55.0,190.0 L70.0,194.0 L86.0,198.0 L126.0,207.0 L160.0,216.0 L201.7,220.2 L241.3,223.3" fill="none" stroke="#b2df8a" stroke-width="0.80" clip-path="url(#clipc)" stroke-linejoin="round"/>
<path d="M32.0,179.4 L38.0,179.0 L44.0,181.0 L55.0,188.0 L70.0,195.0 L86.0,200.0 L126.0,210.0 L166.0,220.0 L241.3,227.5" fill="none" stroke="#cab2d6" stroke-width="0.80" clip-path="url(#clipc)" stroke-linejoin="round"/>
<path d="M32.0,177.2 L40.0,177.2 L46.0,180.0 L60.0,186.0 L86.0,195.0 L126.0,205.0 L166.0,215.5 L241.3,224.5" fill="none" stroke="#fb9a99" stroke-width="0.88" stroke-dasharray="0.8,1.1" clip-path="url(#clipc)" stroke-linejoin="round"/>
<path d="M32.0,178.0 L40.0,180.0 L50.0,186.0 L70.0,193.0 L90.0,198.0 L110.0,201.6 L111.0,201.9 L112.2,202.2 L113.4,201.8 L114.6,202.0 L115.8,202.3 L117.0,201.8 L118.2,202.1 L119.4,202.1 L120.6,202.2 L121.8,201.4 L123.0,201.5 L124.2,202.3 L125.4,202.1 L126.6,201.6 L127.8,202.1 L129.0,201.5 L130.2,201.7 L131.4,201.8 L132.6,201.6 L133.8,201.5 L135.0,201.9 L136.2,202.0 L137.4,201.7 L138.6,202.0 L139.8,202.4 L141.0,201.4 L142.2,201.7 L143.4,201.5 L144.6,202.1 L145.8,201.8 L147.0,201.8 L148.2,201.7 L149.4,202.2 L150.6,202.2 L151.8,201.9 L153.0,202.3 L154.2,201.7 L155.4,201.8 L156.6,202.4 L157.8,201.7 L159.0,201.6 L160.2,201.5 L161.4,202.1 L162.6,202.3 L163.8,201.5 L165.0,201.9 L166.2,201.9 L167.4,201.8 L168.6,201.7 L169.8,201.9 L171.0,201.6 L172.2,202.4 L173.4,201.7 L174.6,202.0 L175.8,202.1 L177.0,202.2 L178.2,202.0 L179.4,202.0 L180.6,202.5 L181.8,201.7 L183.0,201.7 L184.2,201.8 L185.4,202.3 L186.6,202.0 L187.8,201.9 L189.0,201.6 L190.2,201.7 L191.4,202.2 L192.6,201.8 L193.8,202.0 L195.0,201.8 L196.2,201.9 L197.4,201.8 L198.6,202.5 L199.8,202.2 L201.0,202.1 L202.2,201.8 L203.4,202.4 L204.6,202.1 L205.8,201.7 L207.0,201.8 L208.2,202.5 L209.4,201.9 L210.6,202.0 L211.8,201.7 L213.0,202.5 L214.2,201.9 L215.4,202.2 L216.6,202.3 L217.8,202.2 L219.0,202.0 L220.2,201.9 L221.4,202.3 L222.6,201.9 L223.8,202.3 L225.0,202.6 L226.2,202.6 L227.4,202.3 L228.6,202.3 L229.8,201.8 L231.0,202.5 L232.2,202.6 L233.4,202.0 L234.6,201.7 L235.8,202.2 L237.0,202.1 L238.2,202.5 L239.4,202.4 L240.6,202.1" fill="none" stroke="#a6cee3" stroke-width="0.80" stroke-dasharray="2.3,1.0" clip-path="url(#clipc)" stroke-linejoin="round"/>
<path d="M32.0,186.1 L34.9,184.7 L40.9,184.2 L46.8,184.7 L52.7,186.1 L58.7,188.4 L67.6,192.1 L76.5,194.3 L86.0,197.0 L126.0,208.0 L166.0,219.0 L241.3,227.5" fill="none" stroke="#33a02c" stroke-width="0.88" stroke-dasharray="2.3,1.0" clip-path="url(#clipc)" stroke-linejoin="round"/>
<path d="M32.0,166.3 L36.4,166.3 L40.0,170.0 L45.3,189.9 L48.3,196.5 L52.0,188.4 L55.7,185.4 L58.7,190.0 L61.7,194.3 L70.0,196.0 L86.0,199.0 L126.0,210.0 L160.0,223.3 L201.7,228.5 L241.3,231.7" fill="none" stroke="#e31a1c" stroke-width="0.96" stroke-dasharray="3.6,1,0.8,1" clip-path="url(#clipc)" stroke-linejoin="round"/>
<path d="M32.0,171.0 L40.0,173.0 L48.3,178.0 L55.7,181.7 L64.6,186.9 L75.0,190.6 L86.0,195.0 L106.5,203.6 L126.9,209.8 L147.3,214.9 L166.0,219.0 L200.0,223.0 L241.3,226.5" fill="none" stroke="#ff7f00" stroke-width="0.96" clip-path="url(#clipc)" stroke-linejoin="round"/>
<path d="M32.0,168.6 L38.0,169.0 L42.0,172.0 L48.0,180.0 L56.0,187.0 L64.6,192.8 L75.0,199.5 L85.4,206.2 L96.2,211.8 L110.5,215.9 L131.0,221.0 L147.3,224.1 L166.0,225.5 L200.0,227.0 L241.3,228.5" fill="none" stroke="#6a3d9a" stroke-width="0.84" stroke-dasharray="2.3,1.0" clip-path="url(#clipc)" stroke-linejoin="round"/>
<path d="M32.0,143.7 L35.7,145.2 L37.9,148.9 L39.4,157.9 L40.9,172.7 L41.6,182.4 L43.8,188.4 L48.3,191.3 L52.7,192.1 L56.5,190.6 L58.7,183.9 L60.9,175.0 L62.4,178.0 L64.6,183.9 L69.1,186.9 L72.0,189.1 L76.5,189.9 L82.5,191.3 L86.0,195.4 L106.5,199.5 L126.9,203.6 L147.3,204.7 L166.0,205.5 L168.0,205.3 L169.2,205.7 L170.4,205.3 L171.6,205.6 L172.8,205.9 L174.0,205.5 L175.2,205.9 L176.4,205.7 L177.6,205.8 L178.8,205.3 L180.0,205.7 L181.2,205.6 L182.4,205.7 L183.6,205.5 L184.8,205.9 L186.0,205.7 L187.2,205.7 L188.4,205.7 L189.6,205.6 L190.8,205.8 L192.0,205.7 L193.2,205.6 L194.4,205.4 L195.6,205.6 L196.8,205.4 L198.0,205.7 L199.2,205.6 L200.4,205.8 L201.6,205.7 L202.8,205.5 L204.0,205.6 L205.2,205.4 L206.4,205.9 L207.6,205.8 L208.8,205.5 L210.0,205.4 L211.2,205.6 L212.4,205.7 L213.6,205.6 L214.8,205.9 L216.0,205.3 L217.2,205.5 L218.4,205.6 L219.6,205.3 L220.8,205.6 L222.0,205.6 L223.2,205.5 L224.4,205.9 L225.6,205.5 L226.8,205.5 L228.0,205.7 L229.2,205.5 L230.4,205.6 L231.6,205.4 L232.8,205.3 L234.0,205.7 L235.2,205.5 L236.4,205.4 L237.6,205.5 L238.8,205.5 L240.0,205.4 L241.2,205.7" fill="none" stroke="#1f78b4" stroke-width="0.96" clip-path="url(#clipc)" stroke-linejoin="round"/>
<path d="M32.0,178.7 L32.7,170.5 L45.3,170.5 L55.7,175.0 L64.6,178.2 L69.1,178.7 L69.6,179.0 L70.1,179.5 L70.6,179.4 L71.1,179.3 L71.6,179.4 L72.1,179.7 L72.6,180.1 L73.1,180.7 L73.6,181.3 L74.1,181.8 L74.6,182.1 L75.0,182.2 L75.5,182.0 L76.0,181.8 L76.5,181.6 L77.0,181.6 L77.5,181.8 L78.0,182.2 L78.5,182.7 L79.0,183.1 L79.5,183.4 L80.0,183.5 L80.5,183.4 L81.0,183.2 L81.5,183.1 L82.0,183.0 L82.5,183.2 L83.0,183.6 L83.5,184.1 L84.0,184.7 L84.5,185.1 L85.0,185.4 L85.5,185.5 L86.0,185.4 L86.5,185.1 L87.0,185.0 L87.5,185.0 L88.0,185.2 L88.5,185.6 L89.0,186.1 L89.5,186.5 L90.0,186.8 L90.5,186.8 L91.0,186.7 L91.5,186.5 L92.0,186.3 L92.5,186.2 L93.0,186.3 L93.5,186.7 L94.0,187.1 L94.5,187.6 L95.0,188.0 L95.5,188.1 L96.0,188.1 L96.2,188.0 L96.7,187.8 L97.2,187.6 L97.7,187.4 L98.2,187.5 L98.7,187.8 L99.2,188.3 L99.7,188.7 L100.2,189.1 L100.7,189.2 L101.2,189.2 L101.7,189.0 L102.2,188.7 L102.7,188.6 L103.2,188.6 L103.7,188.8 L104.2,189.2 L104.7,189.6 L105.2,190.0 L105.7,190.3 L106.2,190.3 L106.7,190.2 L107.2,190.0 L107.7,189.7 L108.2,189.7 L108.5,189.7 L109.0,190.1 L109.5,190.6 L110.0,191.2 L110.5,191.7 L111.0,192.0 L111.5,192.2 L112.0,192.1 L112.5,192.0 L113.0,191.9 L113.5,192.0 L114.0,192.2 L114.5,192.7 L115.0,193.3 L115.5,193.8 L116.0,194.3 L116.5,194.5 L116.7,194.5 L117.2,194.4 L117.7,194.2 L118.2,194.0 L118.7,194.0 L119.2,194.2 L119.7,194.6 L120.2,195.0 L120.7,195.5 L121.2,195.9 L121.7,196.0 L122.2,196.0 L122.7,195.8 L123.2,195.6 L123.7,195.5 L124.2,195.6 L124.7,195.9 L125.2,196.4 L125.7,196.9 L126.2,197.3 L126.7,197.5 L126.9,197.6 L127.4,197.6 L127.9,197.4 L128.4,197.2 L128.9,197.1 L129.4,197.1 L129.9,197.4 L130.4,197.9 L130.9,198.4 L131.4,198.8 L131.9,199.1 L132.4,199.1 L132.9,199.0 L133.4,198.8 L133.9,198.6 L134.4,198.6 L134.9,198.8 L135.4,199.2 L135.9,199.7 L136.4,200.2 L136.9,200.5 L137.1,200.6 L137.6,200.7 L138.1,200.6 L138.6,200.4 L139.1,200.3 L139.6,200.3 L140.1,200.5 L140.6,200.9 L141.1,201.4 L141.6,201.9 L142.1,202.3 L142.6,202.5 L143.1,202.5 L143.6,202.4 L144.1,202.2 L144.6,202.1 L145.1,202.2 L145.6,202.6 L146.1,203.0 L146.6,203.6 L147.1,204.0 L147.3,204.2 L147.8,204.4 L148.3,204.4 L148.8,204.2 L149.3,204.1 L149.8,204.0 L150.3,204.1 L150.8,204.4 L151.3,204.9 L151.8,205.5 L152.3,205.9 L152.8,206.2 L153.3,206.3 L153.8,206.2 L154.3,206.1 L154.8,205.9 L155.3,206.0 L155.8,206.2 L156.3,206.6 L156.8,207.2 L157.3,207.7 L157.8,208.1 L158.3,208.2 L158.8,208.2 L159.3,208.1 L159.8,207.9 L160.0,207.9 L160.5,207.8 L161.0,207.9 L161.5,208.2 L162.0,208.6 L162.5,209.0 L163.0,209.3 L163.5,209.4 L164.0,209.3 L164.5,209.1 L165.0,208.8 L165.5,208.6 L166.0,208.7 L166.5,208.9 L167.0,209.3 L167.5,209.7 L168.0,210.1 L168.5,210.2 L169.0,210.2 L169.5,210.0 L170.0,209.7 L170.5,209.5 L171.0,209.4 L171.5,209.6 L172.0,209.9 L172.5,210.3 L173.0,210.7 L173.5,211.0 L174.0,211.1 L174.5,210.9 L175.0,210.7 L175.5,210.4 L176.0,210.3 L176.5,210.3 L177.0,210.6 L177.5,210.9 L178.0,211.4 L178.5,211.7 L179.0,211.9 L179.5,211.8 L180.0,211.6 L180.5,211.4 L181.0,211.1 L181.5,211.1 L182.0,211.2 L182.5,211.6 L183.0,212.0 L183.5,212.4 L184.0,212.7 L184.5,212.7 L185.0,212.6 L185.5,212.3 L186.0,212.0 L186.5,211.9 L187.0,212.0 L187.5,212.2 L188.0,212.6 L188.5,213.1 L189.0,213.4 L189.2,213.5 L189.7,213.5 L190.2,213.3 L190.7,213.0 L191.2,212.7 L191.7,212.5 L192.2,212.5 L192.7,212.8 L193.2,213.1 L193.7,213.5 L194.2,213.8 L194.7,213.9 L195.2,213.8 L195.7,213.6 L196.2,213.3 L196.7,213.0 L197.2,212.9 L197.7,213.0 L198.2,213.4 L198.7,213.7 L199.2,214.1 L199.7,214.3 L200.2,214.3 L200.7,214.1 L201.2,213.8 L201.7,213.5 L202.2,213.3 L202.7,213.4 L203.2,213.6 L203.7,214.0 L204.2,214.4 L204.7,214.6 L205.2,214.7 L205.7,214.6 L206.2,214.4 L206.7,214.0 L207.2,213.8 L207.7,213.7 L208.2,213.9 L208.7,214.2 L209.2,214.6 L209.7,214.9 L210.2,215.1 L210.7,215.1 L211.2,214.9 L211.7,214.6 L212.2,214.3 L212.7,214.1 L213.2,214.2 L213.7,214.4 L214.2,214.8 L214.7,215.2 L215.2,215.5 L215.7,215.5 L216.2,215.4 L216.3,215.4 L216.8,215.1 L217.3,214.8 L217.8,214.6 L218.3,214.7 L218.8,214.9 L219.3,215.3 L219.8,215.7 L220.3,216.0 L220.8,216.2 L221.3,216.1 L221.8,215.9 L222.3,215.6 L222.8,215.3 L223.3,215.3 L223.8,215.4 L224.3,215.7 L224.8,216.1 L225.3,216.5 L225.8,216.8 L226.3,216.8 L226.8,216.6 L227.3,216.4 L227.8,216.1 L228.3,215.9 L228.8,216.0 L229.3,216.2 L229.8,216.6 L230.3,217.0 L230.8,217.3 L231.3,217.5 L231.8,217.4 L232.3,217.1 L232.8,216.8 L233.3,216.6 L233.8,216.6 L234.3,216.7 L234.8,217.1 L235.3,217.5 L235.8,217.9 L236.3,218.1 L236.8,218.1 L237.3,217.9 L237.8,217.6 L238.3,217.4 L238.8,217.2 L239.3,217.3 L239.8,217.5 L240.3,217.9 L240.8,218.3 L241.3,218.1" fill="none" stroke="#b15928" stroke-width="0.88" clip-path="url(#clipc)" stroke-linejoin="round"/>
<rect x="26.5" y="143.2" width="214.9" height="103.7" fill="none" stroke="#8c8c8c" stroke-width="0.8"/>
<line x1="31.8" y1="246.9" x2="31.8" y2="248.5" stroke="#8c8c8c" stroke-width="0.8"/>
<text x="31.75" y="255.20" font-size="6.84" text-anchor="middle" textLength="10.26" lengthAdjust="spacingAndGlyphs">0.0</text>
<line x1="57.9" y1="246.9" x2="57.9" y2="248.5" stroke="#8c8c8c" stroke-width="0.8"/>
<text x="57.94" y="255.20" font-size="6.84" text-anchor="middle" textLength="10.26" lengthAdjust="spacingAndGlyphs">2.5</text>
<line x1="84.1" y1="246.9" x2="84.1" y2="248.5" stroke="#8c8c8c" stroke-width="0.8"/>
<text x="84.12" y="255.20" font-size="6.84" text-anchor="middle" textLength="10.26" lengthAdjust="spacingAndGlyphs">5.0</text>
<line x1="110.3" y1="246.9" x2="110.3" y2="248.5" stroke="#8c8c8c" stroke-width="0.8"/>
<text x="110.31" y="255.20" font-size="6.84" text-anchor="middle" textLength="10.26" lengthAdjust="spacingAndGlyphs">7.5</text>
<line x1="136.5" y1="246.9" x2="136.5" y2="248.5" stroke="#8c8c8c" stroke-width="0.8"/>
<text x="136.50" y="255.20" font-size="6.84" text-anchor="middle" textLength="14.36" lengthAdjust="spacingAndGlyphs">10.0</text>
<line x1="162.7" y1="246.9" x2="162.7" y2="248.5" stroke="#8c8c8c" stroke-width="0.8"/>
<text x="162.69" y="255.20" font-size="6.84" text-anchor="middle" textLength="14.36" lengthAdjust="spacingAndGlyphs">12.5</text>
<line x1="188.9" y1="246.9" x2="188.9" y2="248.5" stroke="#8c8c8c" stroke-width="0.8"/>
<text x="188.88" y="255.20" font-size="6.84" text-anchor="middle" textLength="14.36" lengthAdjust="spacingAndGlyphs">15.0</text>
<line x1="215.1" y1="246.9" x2="215.1" y2="248.5" stroke="#8c8c8c" stroke-width="0.8"/>
<text x="215.06" y="255.20" font-size="6.84" text-anchor="middle" textLength="14.36" lengthAdjust="spacingAndGlyphs">17.5</text>
<line x1="241.2" y1="246.9" x2="241.2" y2="248.5" stroke="#8c8c8c" stroke-width="0.8"/>
<text x="241.25" y="255.20" font-size="6.84" text-anchor="middle" textLength="14.36" lengthAdjust="spacingAndGlyphs">20.0</text>
<text x="133.95" y="262.40" font-size="6.13" text-anchor="middle" textLength="25.94" lengthAdjust="spacingAndGlyphs">time (yr)</text>
<line x1="24.9" y1="229.3" x2="26.5" y2="229.3" stroke="#8c8c8c" stroke-width="0.8"/>
<text x="23.9" y="231.7" font-size="6.84" text-anchor="end">10<tspan font-size="4.64" dy="-2.4">0</tspan></text>
<line x1="24.9" y1="196.3" x2="26.5" y2="196.3" stroke="#8c8c8c" stroke-width="0.8"/>
<text x="23.9" y="198.7" font-size="6.84" text-anchor="end">10<tspan font-size="4.64" dy="-2.4">1</tspan></text>
<line x1="24.9" y1="163.3" x2="26.5" y2="163.3" stroke="#8c8c8c" stroke-width="0.8"/>
<text x="23.9" y="165.7" font-size="6.84" text-anchor="end">10<tspan font-size="4.64" dy="-2.4">2</tspan></text>
<line x1="25.6" y1="246.6" x2="26.5" y2="246.6" stroke="#8c8c8c" stroke-width="0.5"/>
<line x1="25.6" y1="242.4" x2="26.5" y2="242.4" stroke="#8c8c8c" stroke-width="0.5"/>
<line x1="25.6" y1="239.2" x2="26.5" y2="239.2" stroke="#8c8c8c" stroke-width="0.5"/>
<line x1="25.6" y1="236.6" x2="26.5" y2="236.6" stroke="#8c8c8c" stroke-width="0.5"/>
<line x1="25.6" y1="234.4" x2="26.5" y2="234.4" stroke="#8c8c8c" stroke-width="0.5"/>
<line x1="25.6" y1="232.5" x2="26.5" y2="232.5" stroke="#8c8c8c" stroke-width="0.5"/>
<line x1="25.6" y1="230.8" x2="26.5" y2="230.8" stroke="#8c8c8c" stroke-width="0.5"/>
<line x1="25.6" y1="219.4" x2="26.5" y2="219.4" stroke="#8c8c8c" stroke-width="0.5"/>
<line x1="25.6" y1="213.6" x2="26.5" y2="213.6" stroke="#8c8c8c" stroke-width="0.5"/>
<line x1="25.6" y1="209.4" x2="26.5" y2="209.4" stroke="#8c8c8c" stroke-width="0.5"/>
<line x1="25.6" y1="206.2" x2="26.5" y2="206.2" stroke="#8c8c8c" stroke-width="0.5"/>
<line x1="25.6" y1="203.6" x2="26.5" y2="203.6" stroke="#8c8c8c" stroke-width="0.5"/>
<line x1="25.6" y1="201.4" x2="26.5" y2="201.4" stroke="#8c8c8c" stroke-width="0.5"/>
<line x1="25.6" y1="199.5" x2="26.5" y2="199.5" stroke="#8c8c8c" stroke-width="0.5"/>
<line x1="25.6" y1="197.8" x2="26.5" y2="197.8" stroke="#8c8c8c" stroke-width="0.5"/>
<line x1="25.6" y1="186.4" x2="26.5" y2="186.4" stroke="#8c8c8c" stroke-width="0.5"/>
<line x1="25.6" y1="180.6" x2="26.5" y2="180.6" stroke="#8c8c8c" stroke-width="0.5"/>
<line x1="25.6" y1="176.4" x2="26.5" y2="176.4" stroke="#8c8c8c" stroke-width="0.5"/>
<line x1="25.6" y1="173.2" x2="26.5" y2="173.2" stroke="#8c8c8c" stroke-width="0.5"/>
<line x1="25.6" y1="170.6" x2="26.5" y2="170.6" stroke="#8c8c8c" stroke-width="0.5"/>
<line x1="25.6" y1="168.4" x2="26.5" y2="168.4" stroke="#8c8c8c" stroke-width="0.5"/>
<line x1="25.6" y1="166.5" x2="26.5" y2="166.5" stroke="#8c8c8c" stroke-width="0.5"/>
<line x1="25.6" y1="164.8" x2="26.5" y2="164.8" stroke="#8c8c8c" stroke-width="0.5"/>
<line x1="25.6" y1="153.4" x2="26.5" y2="153.4" stroke="#8c8c8c" stroke-width="0.5"/>
<line x1="25.6" y1="147.6" x2="26.5" y2="147.6" stroke="#8c8c8c" stroke-width="0.5"/>
<line x1="25.6" y1="143.4" x2="26.5" y2="143.4" stroke="#8c8c8c" stroke-width="0.5"/>
<text x="0.00" y="0.00" font-size="5.95" text-anchor="middle" textLength="66.49" lengthAdjust="spacingAndGlyphs" transform="translate(9.3,195.1) rotate(-90)">mean melt rate (m/yr)</text>
<text x="29.70" y="140.35" font-size="7.35" font-weight="bold" textLength="4.11" lengthAdjust="spacingAndGlyphs">c</text>
<text x="37.40" y="140.35" font-size="7.39" textLength="99.82" lengthAdjust="spacingAndGlyphs">Ocean2 COM, depths &gt; 300 m</text>
<line x1="278.4" y1="143.2" x2="278.4" y2="246.9" stroke="#d9d9d9" stroke-width="0.8"/>
<line x1="304.6" y1="143.2" x2="304.6" y2="246.9" stroke="#d9d9d9" stroke-width="0.8"/>
<line x1="330.8" y1="143.2" x2="330.8" y2="246.9" stroke="#d9d9d9" stroke-width="0.8"/>
<line x1="357.0" y1="143.2" x2="357.0" y2="246.9" stroke="#d9d9d9" stroke-width="0.8"/>
<line x1="383.2" y1="143.2" x2="383.2" y2="246.9" stroke="#d9d9d9" stroke-width="0.8"/>
<line x1="409.4" y1="143.2" x2="409.4" y2="246.9" stroke="#d9d9d9" stroke-width="0.8"/>
<line x1="435.6" y1="143.2" x2="435.6" y2="246.9" stroke="#d9d9d9" stroke-width="0.8"/>
<line x1="461.8" y1="143.2" x2="461.8" y2="246.9" stroke="#d9d9d9" stroke-width="0.8"/>
<line x1="487.9" y1="143.2" x2="487.9" y2="246.9" stroke="#d9d9d9" stroke-width="0.8"/>
<line x1="273.5" y1="229.3" x2="488.0" y2="229.3" stroke="#d9d9d9" stroke-width="0.8"/>
<line x1="273.5" y1="196.3" x2="488.0" y2="196.3" stroke="#d9d9d9" stroke-width="0.8"/>
<line x1="273.5" y1="163.3" x2="488.0" y2="163.3" stroke="#d9d9d9" stroke-width="0.8"/>
<path d="M278.6,214.5 L290.0,214.3 L306.7,215.1 L323.4,216.8 L345.0,220.1 L360.0,220.0 L390.0,222.1 L410.0,224.4 L488.0,230.3" fill="none" stroke="#fdbf6f" stroke-width="0.80" clip-path="url(#clipd)" stroke-linejoin="round"/>
<path d="M278.9,184.5 L290.0,184.5 L298.4,190.0 L315.1,196.7 L331.8,201.7 L346.7,206.7 L363.4,211.7 L375.2,215.9 L390.0,219.0 L410.0,223.5 L433.0,227.9 L488.0,230.0" fill="none" stroke="#ffff99" stroke-width="0.88" clip-path="url(#clipd)" stroke-linejoin="round"/>
<path d="M278.9,177.4 L280.8,173.5 L283.4,174.8 L286.0,179.3 L290.0,181.5 L298.4,187.0 L315.1,193.5 L331.8,199.0 L363.4,207.0 L410.0,214.5 L449.0,218.5 L488.0,221.8" fill="none" stroke="#cab2d6" stroke-width="0.80" clip-path="url(#clipd)" stroke-linejoin="round"/>
<path d="M278.9,180.0 L286.0,178.0 L293.8,178.5 L300.0,184.0 L313.0,192.0 L323.4,200.0 L345.0,210.0 L370.0,219.0 L380.0,224.2 L410.0,230.0 L426.0,234.6 L488.0,243.8" fill="none" stroke="#cab2d6" stroke-width="0.80" stroke-dasharray="2.3,1.0" clip-path="url(#clipd)" stroke-linejoin="round"/>
<path d="M281.0,180.9 L281.4,180.6 L281.8,180.4 L282.2,180.5 L282.6,180.7 L283.0,181.4 L283.4,182.3 L283.8,183.3 L284.2,184.3 L284.6,185.1 L285.0,185.5 L285.4,185.4 L285.8,184.9 L286.2,184.1 L286.6,183.2 L287.0,182.6 L287.4,182.4 L287.8,182.8 L288.2,183.8 L288.6,185.3 L289.0,186.9 L289.4,188.5 L289.8,189.6 L290.2,190.0 L290.6,189.7 L291.0,188.7 L291.4,187.3 L291.8,185.9 L292.2,184.8 L292.6,184.4 L293.0,184.8 L293.4,186.2 L293.8,188.2 L294.2,190.4 L294.6,192.5 L295.0,194.0 L295.4,194.5 L295.8,194.0 L296.2,192.6 L296.6,190.6 L297.0,188.6 L297.4,187.1 L297.8,186.6 L298.2,187.2 L298.6,188.9 L299.0,191.6 L299.4,194.6 L299.8,197.4 L300.2,199.4 L300.6,200.2 L301.0,199.6 L301.4,197.9 L301.8,195.4 L302.2,192.9 L302.6,190.9 L303.0,190.1 L303.4,190.7 L303.8,192.8 L304.2,195.8 L304.6,199.2 L305.0,202.2 L305.4,204.3 L305.8,205.1 L306.2,204.4 L306.6,202.5 L307.0,199.9 L307.4,197.3 L307.8,195.3 L308.2,194.4 L308.6,195.0 L309.0,196.9 L309.4,199.8 L309.8,203.0 L310.2,206.0 L310.6,208.2 L311.0,209.0 L311.4,208.4 L311.8,206.7 L312.2,204.2 L312.6,201.6 L313.0,199.7 L313.4,198.8 L313.8,199.2 L314.2,201.0 L314.6,203.8 L315.0,206.9 L315.4,209.7 L315.8,211.7 L316.2,212.4 L316.6,211.8 L317.0,210.0 L317.4,207.5 L317.8,205.0 L318.2,203.0 L318.6,201.9 L319.0,202.2 L319.4,203.6 L319.8,206.0 L320.2,208.8 L320.6,211.4 L321.0,213.3 L321.4,214.0 L321.8,213.5 L322.2,212.0 L322.6,209.8 L323.0,207.4 L323.4,205.6 L323.8,204.6 L324.2,204.7 L324.6,206.0 L325.0,208.2 L325.4,210.7 L325.8,213.1 L326.2,214.9 L326.6,215.6 L327.0,215.3 L327.4,213.9 L327.8,212.0 L328.2,209.9 L328.6,208.1 L329.0,207.2 L329.4,207.3 L329.8,208.4 L330.2,210.3 L330.6,212.6 L331.0,214.8 L331.4,216.5 L331.8,217.2 L332.2,217.0 L332.6,215.8 L333.0,214.0 L333.4,212.0 L333.8,210.3 L334.2,209.3 L334.6,209.3 L335.0,210.3 L335.4,212.0 L335.8,214.2 L336.2,216.4 L336.6,218.0 L337.0,218.8 L337.4,218.6 L337.8,217.5 L338.2,215.8 L338.6,213.9 L339.0,212.2 L339.4,211.2 L339.8,211.1 L340.2,212.0 L340.6,213.7 L341.0,215.8 L341.4,217.9 L341.8,219.6 L342.2,220.4 L342.6,220.3 L343.0,219.3 L343.4,217.6 L343.8,215.7 L344.2,214.0 L344.6,213.0 L345.0,212.9 L345.4,213.7 L345.8,215.3 L346.2,217.4 L346.6,219.5 L347.0,221.1 L347.4,222.0 L347.8,221.9 L348.2,221.0 L348.6,219.4 L349.0,217.5 L349.4,215.9 L349.8,214.8 L350.2,214.7 L350.6,215.4 L351.0,216.9 L351.4,219.0 L351.8,221.0 L352.2,222.7 L352.6,223.6 L353.0,223.6 L353.4,222.7 L353.8,221.2 L354.2,219.4 L354.6,217.8 L355.0,216.7 L355.4,216.5 L355.8,217.1 L356.2,218.6 L356.6,220.5 L357.0,222.6 L357.4,224.2 L357.8,225.2 L358.2,225.2 L358.6,224.4 L359.0,222.9 L359.4,221.0 L359.8,219.2 L360.2,218.0 L360.6,217.6 L361.0,218.2 L361.4,219.7 L361.8,221.7 L362.2,223.9 L362.6,225.7 L363.0,226.8 L363.4,226.9 L363.8,226.1 L364.2,224.4 L364.6,222.4 L365.0,220.4 L365.4,219.1 L365.8,218.6 L366.2,219.1 L366.6,220.7 L367.0,222.8 L367.4,225.2 L367.8,227.2 L368.2,228.4 L368.6,228.6 L369.0,227.7 L369.4,226.0 L369.8,223.8 L370.2,221.7 L370.6,220.1 L371.0,219.5 L371.4,220.0 L371.8,221.6 L372.2,223.9 L372.6,226.5 L373.0,228.7 L373.4,230.0 L373.8,230.3 L374.2,229.4 L374.6,227.6 L375.0,225.2 L375.4,222.9 L375.8,221.2 L376.2,220.4 L376.6,220.9 L377.0,222.6 L377.4,225.0 L377.8,227.7 L378.2,230.1 L378.6,231.6 L379.0,232.0 L379.4,231.1 L379.8,229.2 L380.2,226.7 L380.6,224.2 L381.0,222.2 L381.4,221.4 L381.8,221.8 L382.2,223.5 L382.6,226.1 L383.0,228.9 L383.4,231.5 L383.8,233.2 L384.2,233.7 L384.6,232.8 L385.0,230.8 L385.4,228.1 L385.8,225.4 L386.2,223.3 L386.6,222.3 L387.0,222.7 L387.4,224.3 L387.8,226.9 L388.2,229.8 L388.6,232.3 L389.0,234.0 L389.4,234.5 L389.8,233.6 L390.2,231.7 L390.6,229.1 L391.0,226.4 L391.4,224.3 L391.8,223.3 L392.2,223.6 L392.6,225.1 L393.0,227.5 L393.4,230.3 L393.8,232.9 L394.2,234.6 L394.6,235.1 L395.0,234.4 L395.4,232.5 L395.8,230.0 L396.2,227.4 L396.6,225.3 L397.0,224.3 L397.4,224.5 L397.8,225.9 L398.2,228.2 L398.6,230.9 L399.0,233.4 L399.4,235.2 L399.8,235.8 L400.2,235.1 L400.6,233.4 L401.0,230.9 L401.4,228.4 L401.8,226.3 L402.2,225.2 L402.6,225.3 L403.0,226.7 L403.4,228.9 L403.8,231.5 L404.2,234.0 L404.6,235.7 L405.0,236.4 L405.4,235.8 L405.8,234.2 L406.2,231.9 L406.6,229.4 L407.0,227.3 L407.4,226.2 L407.8,226.2 L408.2,227.4 L408.6,229.6 L409.0,232.1 L409.4,234.5 L409.8,236.3 L410.2,237.0 L410.6,236.5 L411.0,234.9 L411.4,232.6 L411.8,230.2 L412.2,228.1 L412.6,226.8 L413.0,226.7 L413.4,227.8 L413.8,229.8 L414.2,232.3 L414.6,234.8 L415.0,236.6 L415.4,237.3 L415.8,236.9 L416.2,235.4 L416.6,233.1 L417.0,230.6 L417.4,228.4 L417.8,227.1 L418.2,226.9 L418.6,227.9 L419.0,229.9 L419.4,232.4 L419.8,234.9 L420.2,236.8 L420.6,237.7 L421.0,237.3 L421.4,235.8 L421.8,233.5 L422.2,231.0 L422.6,228.7 L423.0,227.3 L423.4,227.1 L423.8,228.0 L424.2,230.0 L424.6,232.5 L425.0,235.1 L425.4,237.0 L425.8,238.0 L426.2,237.7 L426.6,236.2 L427.0,234.0 L427.4,231.4 L427.8,229.1 L428.2,227.6 L428.6,227.2 L429.0,228.1 L429.4,230.1 L429.8,232.6 L430.2,235.2 L430.6,237.3 L431.0,238.3 L431.4,238.1 L431.8,236.7 L432.2,234.4 L432.6,231.8 L433.0,229.4 L433.4,227.9 L433.8,227.4 L434.2,228.3 L434.6,230.2 L435.0,232.7 L435.4,235.4 L435.8,237.5 L436.2,238.6 L436.6,238.5 L437.0,237.1 L437.4,234.9 L437.8,232.2 L438.2,229.8 L438.6,228.1 L439.0,227.6 L439.4,228.4 L439.8,230.3 L440.2,232.8 L440.6,235.5 L441.0,237.7 L441.4,238.9 L441.8,238.8 L442.2,237.5 L442.6,235.3 L443.0,232.6 L443.4,230.1 L443.8,228.4 L444.2,227.8 L444.6,228.5 L445.0,230.4 L445.4,232.9 L445.8,235.6 L446.2,237.9 L446.6,239.2 L447.0,239.2 L447.4,238.0 L447.8,235.8 L448.2,233.1 L448.6,230.5 L449.0,228.7 L449.4,228.0 L449.8,228.6 L450.2,230.4 L450.6,233.0 L451.0,235.8 L451.4,238.1 L451.8,239.5 L452.2,239.6 L452.6,238.4 L453.0,236.2 L453.4,233.5 L453.8,230.9 L454.2,229.0 L454.6,228.2 L455.0,228.8 L455.4,230.5 L455.8,233.1 L456.2,235.9 L456.6,238.3 L457.0,239.8 L457.4,239.9 L457.8,238.8 L458.2,236.7 L458.6,233.9 L459.0,231.3 L459.4,229.3 L459.8,228.4 L460.2,228.9 L460.6,230.6 L461.0,233.2 L461.4,236.0 L461.8,238.5 L462.2,240.0 L462.6,240.3 L463.0,239.3 L463.4,237.1 L463.8,234.4 L464.2,231.7 L464.6,229.6 L465.0,228.6 L465.4,229.0 L465.8,230.7 L466.2,233.3 L466.6,236.1 L467.0,238.7 L467.4,240.3 L467.8,240.7 L468.2,239.7 L468.6,237.6 L469.0,234.8 L469.4,232.1 L469.8,229.9 L470.2,228.9 L470.6,229.2 L471.0,230.8 L471.4,233.3 L471.8,236.2 L472.2,238.8 L472.6,240.6 L473.0,241.0 L473.4,240.1 L473.8,238.0 L474.2,235.3 L474.6,232.5 L475.0,230.2 L475.4,229.1 L475.8,229.3 L476.2,230.9 L476.6,233.4 L477.0,236.3 L477.4,239.0 L477.8,240.8 L478.2,241.4 L478.6,240.5 L479.0,238.5 L479.4,235.7 L479.8,232.9 L480.2,230.6 L480.6,229.3 L481.0,229.5 L481.4,231.0 L481.8,233.5 L482.2,236.4 L482.6,239.2 L483.0,241.1 L483.4,241.7 L483.8,240.9 L484.2,238.9 L484.6,236.2 L485.0,233.3 L485.4,230.9 L485.8,229.6 L486.2,229.6 L486.6,231.1 L487.0,233.5 L487.4,236.5 L487.8,239.3" fill="none" stroke="#b15928" stroke-width="1.00" stroke-dasharray="2.0,1.0" clip-path="url(#clipd)" stroke-linejoin="round"/>
<path d="M278.9,179.5 L286.0,179.5 L287.3,182.0 L293.8,189.8 L299.0,195.0 L304.3,200.0 L315.1,208.4 L323.4,213.4 L331.8,216.8 L346.7,220.0 L363.4,223.3 L390.0,225.1 L410.0,226.5 L488.0,227.9" fill="none" stroke="#6a3d9a" stroke-width="0.84" stroke-dasharray="2.3,1.0" clip-path="url(#clipd)" stroke-linejoin="round"/>
<path d="M278.6,150.1 L282.7,150.4 L284.6,153.4 L286.1,163.8 L287.3,178.0 L292.5,182.0 L299.0,187.1 L306.7,191.0 L313.0,193.0 L323.4,196.7 L330.0,199.5 L346.7,203.4 L363.4,206.7 L380.2,210.0 L390.0,211.7 L410.0,215.5 L449.4,218.5 L488.0,221.4" fill="none" stroke="#1f78b4" stroke-width="0.96" clip-path="url(#clipd)" stroke-linejoin="round"/>
<path d="M278.9,181.0 L286.0,180.0 L299.0,185.8 L306.0,187.0 L313.0,188.5 L323.4,195.0 L346.7,202.5 L363.4,205.9 L390.0,209.2 L410.0,211.6 L449.4,214.5 L488.0,217.5" fill="none" stroke="#ff7f00" stroke-width="0.96" clip-path="url(#clipd)" stroke-linejoin="round"/>
<path d="M278.6,200.7 L279.2,190.0 L279.5,178.0 L286.0,178.0 L290.0,180.6 L300.0,186.7 L315.1,191.7 L331.8,196.7 L346.7,203.5 L367.4,208.5 L373.3,211.0 L379.3,209.6 L390.0,212.5 L410.0,214.5 L435.6,217.5 L461.2,220.4 L488.0,223.4" fill="none" stroke="#b15928" stroke-width="0.88" clip-path="url(#clipd)" stroke-linejoin="round"/>
<rect x="273.5" y="143.2" width="214.5" height="103.7" fill="none" stroke="#8c8c8c" stroke-width="0.8"/>
<line x1="278.4" y1="246.9" x2="278.4" y2="248.5" stroke="#8c8c8c" stroke-width="0.8"/>
<text x="278.45" y="255.20" font-size="6.84" text-anchor="middle" textLength="10.26" lengthAdjust="spacingAndGlyphs">0.0</text>
<line x1="304.6" y1="246.9" x2="304.6" y2="248.5" stroke="#8c8c8c" stroke-width="0.8"/>
<text x="304.64" y="255.20" font-size="6.84" text-anchor="middle" textLength="10.26" lengthAdjust="spacingAndGlyphs">2.5</text>
<line x1="330.8" y1="246.9" x2="330.8" y2="248.5" stroke="#8c8c8c" stroke-width="0.8"/>
<text x="330.82" y="255.20" font-size="6.84" text-anchor="middle" textLength="10.26" lengthAdjust="spacingAndGlyphs">5.0</text>
<line x1="357.0" y1="246.9" x2="357.0" y2="248.5" stroke="#8c8c8c" stroke-width="0.8"/>
<text x="357.01" y="255.20" font-size="6.84" text-anchor="middle" textLength="10.26" lengthAdjust="spacingAndGlyphs">7.5</text>
<line x1="383.2" y1="246.9" x2="383.2" y2="248.5" stroke="#8c8c8c" stroke-width="0.8"/>
<text x="383.20" y="255.20" font-size="6.84" text-anchor="middle" textLength="14.36" lengthAdjust="spacingAndGlyphs">10.0</text>
<line x1="409.4" y1="246.9" x2="409.4" y2="248.5" stroke="#8c8c8c" stroke-width="0.8"/>
<text x="409.39" y="255.20" font-size="6.84" text-anchor="middle" textLength="14.36" lengthAdjust="spacingAndGlyphs">12.5</text>
<line x1="435.6" y1="246.9" x2="435.6" y2="248.5" stroke="#8c8c8c" stroke-width="0.8"/>
<text x="435.57" y="255.20" font-size="6.84" text-anchor="middle" textLength="14.36" lengthAdjust="spacingAndGlyphs">15.0</text>
<line x1="461.8" y1="246.9" x2="461.8" y2="248.5" stroke="#8c8c8c" stroke-width="0.8"/>
<text x="461.76" y="255.20" font-size="6.84" text-anchor="middle" textLength="14.36" lengthAdjust="spacingAndGlyphs">17.5</text>
<line x1="487.9" y1="246.9" x2="487.9" y2="248.5" stroke="#8c8c8c" stroke-width="0.8"/>
<text x="487.95" y="255.20" font-size="6.84" text-anchor="middle" textLength="14.36" lengthAdjust="spacingAndGlyphs">20.0</text>
<text x="380.75" y="262.40" font-size="6.13" text-anchor="middle" textLength="25.94" lengthAdjust="spacingAndGlyphs">time (yr)</text>
<line x1="271.9" y1="229.3" x2="273.5" y2="229.3" stroke="#8c8c8c" stroke-width="0.8"/>
<text x="270.9" y="231.7" font-size="6.84" text-anchor="end">10<tspan font-size="4.64" dy="-2.4">0</tspan></text>
<line x1="271.9" y1="196.3" x2="273.5" y2="196.3" stroke="#8c8c8c" stroke-width="0.8"/>
<text x="270.9" y="198.7" font-size="6.84" text-anchor="end">10<tspan font-size="4.64" dy="-2.4">1</tspan></text>
<line x1="271.9" y1="163.3" x2="273.5" y2="163.3" stroke="#8c8c8c" stroke-width="0.8"/>
<text x="270.9" y="165.7" font-size="6.84" text-anchor="end">10<tspan font-size="4.64" dy="-2.4">2</tspan></text>
<line x1="272.6" y1="246.6" x2="273.5" y2="246.6" stroke="#8c8c8c" stroke-width="0.5"/>
<line x1="272.6" y1="242.4" x2="273.5" y2="242.4" stroke="#8c8c8c" stroke-width="0.5"/>
<line x1="272.6" y1="239.2" x2="273.5" y2="239.2" stroke="#8c8c8c" stroke-width="0.5"/>
<line x1="272.6" y1="236.6" x2="273.5" y2="236.6" stroke="#8c8c8c" stroke-width="0.5"/>
<line x1="272.6" y1="234.4" x2="273.5" y2="234.4" stroke="#8c8c8c" stroke-width="0.5"/>
<line x1="272.6" y1="232.5" x2="273.5" y2="232.5" stroke="#8c8c8c" stroke-width="0.5"/>
<line x1="272.6" y1="230.8" x2="273.5" y2="230.8" stroke="#8c8c8c" stroke-width="0.5"/>
<line x1="272.6" y1="219.4" x2="273.5" y2="219.4" stroke="#8c8c8c" stroke-width="0.5"/>
<line x1="272.6" y1="213.6" x2="273.5" y2="213.6" stroke="#8c8c8c" stroke-width="0.5"/>
<line x1="272.6" y1="209.4" x2="273.5" y2="209.4" stroke="#8c8c8c" stroke-width="0.5"/>
<line x1="272.6" y1="206.2" x2="273.5" y2="206.2" stroke="#8c8c8c" stroke-width="0.5"/>
<line x1="272.6" y1="203.6" x2="273.5" y2="203.6" stroke="#8c8c8c" stroke-width="0.5"/>
<line x1="272.6" y1="201.4" x2="273.5" y2="201.4" stroke="#8c8c8c" stroke-width="0.5"/>
<line x1="272.6" y1="199.5" x2="273.5" y2="199.5" stroke="#8c8c8c" stroke-width="0.5"/>
<line x1="272.6" y1="197.8" x2="273.5" y2="197.8" stroke="#8c8c8c" stroke-width="0.5"/>
<line x1="272.6" y1="186.4" x2="273.5" y2="186.4" stroke="#8c8c8c" stroke-width="0.5"/>
<line x1="272.6" y1="180.6" x2="273.5" y2="180.6" stroke="#8c8c8c" stroke-width="0.5"/>
<line x1="272.6" y1="176.4" x2="273.5" y2="176.4" stroke="#8c8c8c" stroke-width="0.5"/>
<line x1="272.6" y1="173.2" x2="273.5" y2="173.2" stroke="#8c8c8c" stroke-width="0.5"/>
<line x1="272.6" y1="170.6" x2="273.5" y2="170.6" stroke="#8c8c8c" stroke-width="0.5"/>
<line x1="272.6" y1="168.4" x2="273.5" y2="168.4" stroke="#8c8c8c" stroke-width="0.5"/>
<line x1="272.6" y1="166.5" x2="273.5" y2="166.5" stroke="#8c8c8c" stroke-width="0.5"/>
<line x1="272.6" y1="164.8" x2="273.5" y2="164.8" stroke="#8c8c8c" stroke-width="0.5"/>
<line x1="272.6" y1="153.4" x2="273.5" y2="153.4" stroke="#8c8c8c" stroke-width="0.5"/>
<line x1="272.6" y1="147.6" x2="273.5" y2="147.6" stroke="#8c8c8c" stroke-width="0.5"/>
<line x1="272.6" y1="143.4" x2="273.5" y2="143.4" stroke="#8c8c8c" stroke-width="0.5"/>
<text x="0.00" y="0.00" font-size="5.95" text-anchor="middle" textLength="66.49" lengthAdjust="spacingAndGlyphs" transform="translate(256.3,195.1) rotate(-90)">mean melt rate (m/yr)</text>
<text x="275.50" y="140.35" font-size="7.35" font-weight="bold" textLength="4.96" lengthAdjust="spacingAndGlyphs">d</text>
<text x="283.60" y="140.35" font-size="7.39" textLength="96.37" lengthAdjust="spacingAndGlyphs">Ocean2 TYP, depths &gt; 300 m</text>
<rect x="90.3" y="145.5" width="148.4" height="50.0" rx="1.5" fill="#fff" fill-opacity="0.8" stroke="#d4d4d4" stroke-width="0.8"/>
<line x1="92.4" y1="150.2" x2="103.8" y2="150.2" stroke="#a6cee3" stroke-width="0.80" stroke-dasharray="2.3,1.0"/>
<text x="107.50" y="152.17" font-size="5.72" textLength="16.04" lengthAdjust="spacingAndGlyphs">COCO</text>
<line x1="92.4" y1="158.2" x2="103.8" y2="158.2" stroke="#1f78b4" stroke-width="0.96"/>
<text x="107.50" y="160.22" font-size="5.72" textLength="19.48" lengthAdjust="spacingAndGlyphs">FVCOM</text>
<line x1="92.4" y1="166.3" x2="103.8" y2="166.3" stroke="#b2df8a" stroke-width="0.80"/>
<text x="107.50" y="168.27" font-size="5.72" textLength="33.79" lengthAdjust="spacingAndGlyphs">MITgcm-BAS</text>
<line x1="92.4" y1="174.3" x2="103.8" y2="174.3" stroke="#33a02c" stroke-width="0.88" stroke-dasharray="2.3,1.0"/>
<text x="107.50" y="176.32" font-size="5.72" textLength="57.91" lengthAdjust="spacingAndGlyphs">MITgcm-BAS-Coupled</text>
<line x1="92.4" y1="182.4" x2="103.8" y2="182.4" stroke="#fb9a99" stroke-width="0.88" stroke-dasharray="0.8,1.1"/>
<text x="107.50" y="184.37" font-size="5.72" textLength="31.31" lengthAdjust="spacingAndGlyphs">MITgcm-JPL</text>
<line x1="92.4" y1="190.4" x2="103.8" y2="190.4" stroke="#e31a1c" stroke-width="0.96" stroke-dasharray="3.6,1,0.8,1"/>
<text x="107.50" y="192.42" font-size="5.72" textLength="55.79" lengthAdjust="spacingAndGlyphs">MOM6-SIGMA-ZSTAR</text>
<line x1="176.0" y1="150.2" x2="187.0" y2="150.2" stroke="#fdbf6f" stroke-width="0.80"/>
<text x="191.30" y="152.17" font-size="5.72" textLength="35.82" lengthAdjust="spacingAndGlyphs">MOM6-LAYER</text>
<line x1="176.0" y1="158.2" x2="187.0" y2="158.2" stroke="#ff7f00" stroke-width="0.96"/>
<text x="191.30" y="160.22" font-size="5.72" textLength="34.06" lengthAdjust="spacingAndGlyphs">MPAS-Ocean</text>
<line x1="176.0" y1="166.3" x2="187.0" y2="166.3" stroke="#cab2d6" stroke-width="0.80"/>
<text x="191.30" y="168.27" font-size="5.72" textLength="33.45" lengthAdjust="spacingAndGlyphs">NEMO-CNRS</text>
<line x1="176.0" y1="174.3" x2="187.0" y2="174.3" stroke="#6a3d9a" stroke-width="0.96" stroke-dasharray="2.3,1.0"/>
<text x="191.30" y="176.32" font-size="5.72" textLength="45.20" lengthAdjust="spacingAndGlyphs">NEMO-UKESM1is</text>
<line x1="176.0" y1="182.4" x2="187.0" y2="182.4" stroke="#ffff99" stroke-width="0.88"/>
<text x="191.30" y="184.37" font-size="5.72" textLength="17.39" lengthAdjust="spacingAndGlyphs">POP2x</text>
<line x1="176.0" y1="190.4" x2="187.0" y2="190.4" stroke="#b15928" stroke-width="0.88"/>
<text x="191.30" y="192.42" font-size="5.72" textLength="16.09" lengthAdjust="spacingAndGlyphs">ROMS</text>
<rect x="347.0" y="145.5" width="138.5" height="41.0" rx="1.5" fill="#fff" fill-opacity="0.8" stroke="#d4d4d4" stroke-width="0.8"/>
<line x1="348.7" y1="150.4" x2="360.0" y2="150.4" stroke="#1f78b4" stroke-width="0.96"/>
<text x="363.90" y="152.37" font-size="5.72" textLength="19.48" lengthAdjust="spacingAndGlyphs">FVCOM</text>
<line x1="348.7" y1="158.4" x2="360.0" y2="158.4" stroke="#fdbf6f" stroke-width="0.80"/>
<text x="363.90" y="160.37" font-size="5.72" textLength="35.82" lengthAdjust="spacingAndGlyphs">MOM6-LAYER</text>
<line x1="348.7" y1="166.4" x2="360.0" y2="166.4" stroke="#ff7f00" stroke-width="0.96"/>
<text x="363.90" y="168.37" font-size="5.72" textLength="34.06" lengthAdjust="spacingAndGlyphs">MPAS-Ocean</text>
<line x1="348.7" y1="174.4" x2="360.0" y2="174.4" stroke="#cab2d6" stroke-width="0.80"/>
<text x="363.90" y="176.37" font-size="5.72" textLength="47.82" lengthAdjust="spacingAndGlyphs">NEMO-CNRS-TYPa</text>
<line x1="348.7" y1="182.4" x2="360.0" y2="182.4" stroke="#cab2d6" stroke-width="0.80" stroke-dasharray="2.3,1.0"/>
<text x="363.90" y="184.37" font-size="5.72" textLength="48.18" lengthAdjust="spacingAndGlyphs">NEMO-CNRS-TYPb</text>
<line x1="423.1" y1="150.4" x2="433.6" y2="150.4" stroke="#6a3d9a" stroke-width="0.96" stroke-dasharray="2.3,1.0"/>
<text x="437.80" y="152.37" font-size="5.72" textLength="45.20" lengthAdjust="spacingAndGlyphs">NEMO-UKESM1is</text>
<line x1="423.1" y1="158.4" x2="433.6" y2="158.4" stroke="#ffff99" stroke-width="0.88"/>
<text x="437.80" y="160.37" font-size="5.72" textLength="17.39" lengthAdjust="spacingAndGlyphs">POP2x</text>
<line x1="423.1" y1="166.4" x2="433.6" y2="166.4" stroke="#b15928" stroke-width="0.88"/>
<text x="437.80" y="168.37" font-size="5.72" textLength="16.09" lengthAdjust="spacingAndGlyphs">ROMS</text>
<line x1="423.1" y1="174.4" x2="433.6" y2="174.4" stroke="#b15928" stroke-width="0.80" stroke-dasharray="2.0,1.0"/>
<text x="437.80" y="176.37" font-size="5.72" textLength="31.22" lengthAdjust="spacingAndGlyphs">ROMS-tides</text>
</svg></body></html>
